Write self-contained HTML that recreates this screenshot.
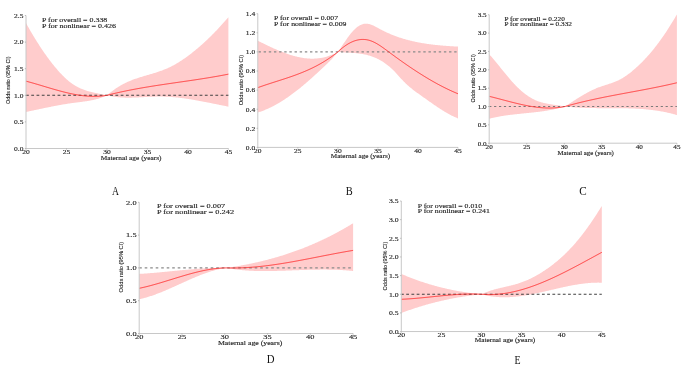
<!DOCTYPE html>
<html><head><meta charset="utf-8"><style>
html,body{margin:0;padding:0;background:#fff;width:685px;height:367px;overflow:hidden}
svg{display:block;will-change:transform}
.t{font-family:"Liberation Serif",serif;fill:#222;stroke:#222;stroke-width:0.12px}
.s{font-family:"Liberation Sans",sans-serif;fill:#222;stroke:#222;stroke-width:0.1px}
.L{font-family:"Liberation Serif",serif;font-size:12px;fill:#111}
</style></head><body>
<svg width="685" height="367" viewBox="0 0 685 367">
<path d="M26,23.04 L26.67,24.26 L27.35,25.47 L28.02,26.67 L28.7,27.86 L29.37,29.04 L30.05,30.21 L30.72,31.38 L31.4,32.53 L32.07,33.68 L32.75,34.81 L33.42,35.94 L34.1,37.06 L34.77,38.16 L35.45,39.26 L36.12,40.35 L36.79,41.43 L37.47,42.5 L38.14,43.56 L38.82,44.62 L39.49,45.66 L40.17,46.69 L40.84,47.71 L41.52,48.73 L42.19,49.73 L42.87,50.73 L43.54,51.71 L44.22,52.69 L44.89,53.66 L45.57,54.61 L46.24,55.56 L46.91,56.5 L47.59,57.42 L48.26,58.34 L48.94,59.25 L49.61,60.15 L50.29,61.03 L50.96,61.91 L51.64,62.78 L52.31,63.64 L52.99,64.49 L53.66,65.33 L54.34,66.15 L55.01,66.97 L55.69,67.78 L56.36,68.58 L57.03,69.37 L57.71,70.14 L58.38,70.91 L59.06,71.67 L59.73,72.41 L60.41,73.14 L61.08,73.86 L61.76,74.57 L62.43,75.26 L63.11,75.94 L63.78,76.61 L64.46,77.27 L65.13,77.91 L65.81,78.53 L66.48,79.15 L67.15,79.74 L67.83,80.33 L68.5,80.9 L69.18,81.45 L69.85,81.99 L70.53,82.51 L71.2,83.01 L71.88,83.5 L72.55,83.97 L73.23,84.43 L73.9,84.87 L74.58,85.29 L75.25,85.7 L75.93,86.1 L76.6,86.48 L77.27,86.84 L77.95,87.2 L78.62,87.54 L79.3,87.86 L79.97,88.18 L80.65,88.48 L81.32,88.77 L82,89.05 L82.67,89.32 L83.35,89.58 L84.02,89.83 L84.7,90.07 L85.37,90.3 L86.05,90.53 L86.72,90.74 L87.39,90.95 L88.07,91.15 L88.74,91.34 L89.42,91.52 L90.09,91.7 L90.77,91.87 L91.44,92.04 L92.12,92.2 L92.79,92.36 L93.47,92.51 L94.14,92.66 L94.82,92.81 L95.49,92.95 L96.17,93.09 L96.84,93.23 L97.51,93.37 L98.19,93.5 L98.86,93.63 L99.54,93.77 L100.21,93.9 L100.89,94.03 L101.56,94.17 L102.24,94.3 L102.91,94.44 L103.59,94.57 L104.26,94.71 L104.94,94.85 L105.61,95 L106.29,95.15 L106.96,95.3 L107.63,94.71 L108.31,94.14 L108.98,93.58 L109.66,93.03 L110.33,92.48 L111.01,91.95 L111.68,91.44 L112.36,90.93 L113.03,90.43 L113.71,89.94 L114.38,89.46 L115.06,89 L115.73,88.54 L116.41,88.09 L117.08,87.65 L117.75,87.22 L118.43,86.8 L119.1,86.39 L119.78,85.99 L120.45,85.6 L121.13,85.21 L121.8,84.84 L122.48,84.47 L123.15,84.11 L123.83,83.76 L124.5,83.42 L125.18,83.08 L125.85,82.75 L126.53,82.43 L127.2,82.12 L127.87,81.81 L128.55,81.51 L129.22,81.22 L129.9,80.94 L130.57,80.66 L131.25,80.39 L131.92,80.12 L132.6,79.86 L133.27,79.6 L133.95,79.35 L134.62,79.11 L135.3,78.87 L135.97,78.63 L136.65,78.4 L137.32,78.17 L137.99,77.95 L138.67,77.73 L139.34,77.51 L140.02,77.3 L140.69,77.09 L141.37,76.88 L142.04,76.67 L142.72,76.47 L143.39,76.27 L144.07,76.07 L144.74,75.87 L145.42,75.67 L146.09,75.48 L146.77,75.28 L147.44,75.09 L148.11,74.89 L148.79,74.69 L149.46,74.5 L150.14,74.3 L150.81,74.11 L151.49,73.91 L152.16,73.71 L152.84,73.51 L153.51,73.3 L154.19,73.1 L154.86,72.89 L155.54,72.68 L156.21,72.47 L156.89,72.25 L157.56,72.03 L158.23,71.81 L158.91,71.58 L159.58,71.35 L160.26,71.11 L160.93,70.87 L161.61,70.63 L162.28,70.38 L162.96,70.12 L163.63,69.86 L164.31,69.6 L164.98,69.32 L165.66,69.04 L166.33,68.76 L167.01,68.47 L167.68,68.17 L168.35,67.86 L169.03,67.55 L169.7,67.22 L170.38,66.89 L171.05,66.56 L171.73,66.21 L172.4,65.86 L173.08,65.5 L173.75,65.14 L174.43,64.77 L175.1,64.39 L175.78,64 L176.45,63.61 L177.13,63.21 L177.8,62.8 L178.47,62.39 L179.15,61.97 L179.82,61.54 L180.5,61.11 L181.17,60.67 L181.85,60.23 L182.52,59.78 L183.2,59.32 L183.87,58.86 L184.55,58.39 L185.22,57.92 L185.9,57.44 L186.57,56.95 L187.25,56.46 L187.92,55.97 L188.59,55.47 L189.27,54.96 L189.94,54.45 L190.62,53.93 L191.29,53.41 L191.97,52.89 L192.64,52.35 L193.32,51.82 L193.99,51.28 L194.67,50.73 L195.34,50.18 L196.02,49.62 L196.69,49.06 L197.37,48.49 L198.04,47.92 L198.71,47.35 L199.39,46.76 L200.06,46.18 L200.74,45.59 L201.41,44.99 L202.09,44.39 L202.76,43.78 L203.44,43.17 L204.11,42.56 L204.79,41.93 L205.46,41.31 L206.14,40.68 L206.81,40.04 L207.49,39.4 L208.16,38.76 L208.83,38.11 L209.51,37.45 L210.18,36.79 L210.86,36.13 L211.53,35.46 L212.21,34.79 L212.88,34.11 L213.56,33.42 L214.23,32.73 L214.91,32.04 L215.58,31.34 L216.26,30.64 L216.93,29.93 L217.61,29.22 L218.28,28.5 L218.95,27.78 L219.63,27.06 L220.3,26.32 L220.98,25.59 L221.65,24.85 L222.33,24.1 L223,23.35 L223.68,22.6 L224.35,21.84 L225.03,21.08 L225.7,20.31 L226.38,19.54 L227.05,18.76 L227.73,17.98 L228.4,17.19 L228.4,106.64 L227.73,106.51 L227.05,106.38 L226.38,106.24 L225.7,106.11 L225.03,105.98 L224.35,105.84 L223.68,105.7 L223,105.57 L222.33,105.43 L221.65,105.3 L220.98,105.16 L220.3,105.02 L219.63,104.89 L218.95,104.75 L218.28,104.61 L217.61,104.47 L216.93,104.34 L216.26,104.2 L215.58,104.06 L214.91,103.92 L214.23,103.79 L213.56,103.65 L212.88,103.51 L212.21,103.38 L211.53,103.24 L210.86,103.1 L210.18,102.97 L209.51,102.83 L208.83,102.7 L208.16,102.56 L207.49,102.43 L206.81,102.3 L206.14,102.17 L205.46,102.03 L204.79,101.9 L204.11,101.77 L203.44,101.64 L202.76,101.51 L202.09,101.38 L201.41,101.26 L200.74,101.13 L200.06,101 L199.39,100.88 L198.71,100.76 L198.04,100.63 L197.37,100.51 L196.69,100.39 L196.02,100.27 L195.34,100.15 L194.67,100.04 L193.99,99.92 L193.32,99.81 L192.64,99.69 L191.97,99.58 L191.29,99.47 L190.62,99.36 L189.94,99.26 L189.27,99.15 L188.59,99.05 L187.92,98.94 L187.25,98.84 L186.57,98.74 L185.9,98.64 L185.22,98.55 L184.55,98.45 L183.87,98.36 L183.2,98.27 L182.52,98.18 L181.85,98.1 L181.17,98.01 L180.5,97.93 L179.82,97.85 L179.15,97.77 L178.47,97.69 L177.8,97.62 L177.13,97.55 L176.45,97.48 L175.78,97.41 L175.1,97.34 L174.43,97.28 L173.75,97.22 L173.08,97.16 L172.4,97.11 L171.73,97.05 L171.05,97 L170.38,96.95 L169.7,96.91 L169.03,96.87 L168.35,96.83 L167.68,96.79 L167.01,96.75 L166.33,96.72 L165.66,96.69 L164.98,96.67 L164.31,96.64 L163.63,96.62 L162.96,96.6 L162.28,96.59 L161.61,96.58 L160.93,96.57 L160.26,96.56 L159.58,96.56 L158.91,96.56 L158.23,96.57 L157.56,96.57 L156.89,96.58 L156.21,96.6 L155.54,96.61 L154.86,96.63 L154.19,96.65 L153.51,96.67 L152.84,96.69 L152.16,96.72 L151.49,96.75 L150.81,96.77 L150.14,96.8 L149.46,96.84 L148.79,96.87 L148.11,96.9 L147.44,96.94 L146.77,96.97 L146.09,97.01 L145.42,97.04 L144.74,97.08 L144.07,97.12 L143.39,97.15 L142.72,97.19 L142.04,97.22 L141.37,97.26 L140.69,97.29 L140.02,97.33 L139.34,97.36 L138.67,97.4 L137.99,97.43 L137.32,97.46 L136.65,97.49 L135.97,97.51 L135.3,97.54 L134.62,97.56 L133.95,97.59 L133.27,97.61 L132.6,97.62 L131.92,97.64 L131.25,97.65 L130.57,97.66 L129.9,97.67 L129.22,97.67 L128.55,97.68 L127.87,97.67 L127.2,97.67 L126.53,97.66 L125.85,97.65 L125.18,97.63 L124.5,97.61 L123.83,97.59 L123.15,97.56 L122.48,97.53 L121.8,97.5 L121.13,97.45 L120.45,97.41 L119.78,97.36 L119.1,97.3 L118.43,97.24 L117.75,97.18 L117.08,97.11 L116.41,97.03 L115.73,96.95 L115.06,96.86 L114.38,96.77 L113.71,96.67 L113.03,96.56 L112.36,96.45 L111.68,96.33 L111.01,96.2 L110.33,96.07 L109.66,95.93 L108.98,95.78 L108.31,95.63 L107.63,95.47 L106.96,95.3 L106.29,95.63 L105.61,95.94 L104.94,96.24 L104.26,96.53 L103.59,96.81 L102.91,97.08 L102.24,97.34 L101.56,97.59 L100.89,97.83 L100.21,98.06 L99.54,98.29 L98.86,98.5 L98.19,98.7 L97.51,98.9 L96.84,99.09 L96.17,99.27 L95.49,99.44 L94.82,99.61 L94.14,99.77 L93.47,99.92 L92.79,100.06 L92.12,100.2 L91.44,100.34 L90.77,100.47 L90.09,100.59 L89.42,100.71 L88.74,100.83 L88.07,100.94 L87.39,101.05 L86.72,101.15 L86.05,101.25 L85.37,101.35 L84.7,101.44 L84.02,101.53 L83.35,101.62 L82.67,101.71 L82,101.8 L81.32,101.88 L80.65,101.97 L79.97,102.05 L79.3,102.13 L78.62,102.21 L77.95,102.3 L77.27,102.38 L76.6,102.46 L75.93,102.55 L75.25,102.64 L74.58,102.72 L73.9,102.81 L73.23,102.9 L72.55,103 L71.88,103.09 L71.2,103.19 L70.53,103.29 L69.85,103.39 L69.18,103.49 L68.5,103.59 L67.83,103.7 L67.15,103.81 L66.48,103.91 L65.81,104.02 L65.13,104.14 L64.46,104.25 L63.78,104.36 L63.11,104.48 L62.43,104.59 L61.76,104.71 L61.08,104.83 L60.41,104.95 L59.73,105.07 L59.06,105.2 L58.38,105.32 L57.71,105.45 L57.03,105.57 L56.36,105.7 L55.69,105.83 L55.01,105.96 L54.34,106.09 L53.66,106.22 L52.99,106.35 L52.31,106.48 L51.64,106.61 L50.96,106.75 L50.29,106.88 L49.61,107.02 L48.94,107.15 L48.26,107.29 L47.59,107.43 L46.91,107.57 L46.24,107.7 L45.57,107.84 L44.89,107.98 L44.22,108.12 L43.54,108.26 L42.87,108.4 L42.19,108.54 L41.52,108.68 L40.84,108.83 L40.17,108.97 L39.49,109.11 L38.82,109.25 L38.14,109.39 L37.47,109.54 L36.79,109.68 L36.12,109.82 L35.45,109.96 L34.77,110.1 L34.1,110.25 L33.42,110.39 L32.75,110.53 L32.07,110.67 L31.4,110.81 L30.72,110.95 L30.05,111.1 L29.37,111.24 L28.7,111.38 L28.02,111.52 L27.35,111.66 L26.67,111.8 L26,111.93 Z" fill="#ffcccc"/>
<line x1="26" y1="95.3" x2="228.4" y2="95.3" stroke="#404040" stroke-width="1.1" stroke-dasharray="2.8 2.46" stroke-dashoffset="0"/>
<path d="M26,81.17 L26.67,81.35 L27.35,81.53 L28.02,81.71 L28.7,81.89 L29.37,82.08 L30.05,82.26 L30.72,82.45 L31.4,82.64 L32.07,82.83 L32.75,83.02 L33.42,83.21 L34.1,83.41 L34.77,83.6 L35.45,83.8 L36.12,84 L36.79,84.2 L37.47,84.39 L38.14,84.59 L38.82,84.79 L39.49,84.99 L40.17,85.2 L40.84,85.4 L41.52,85.6 L42.19,85.8 L42.87,86 L43.54,86.21 L44.22,86.41 L44.89,86.61 L45.57,86.81 L46.24,87.02 L46.91,87.22 L47.59,87.42 L48.26,87.62 L48.94,87.82 L49.61,88.02 L50.29,88.22 L50.96,88.42 L51.64,88.62 L52.31,88.82 L52.99,89.01 L53.66,89.21 L54.34,89.4 L55.01,89.59 L55.69,89.79 L56.36,89.98 L57.03,90.17 L57.71,90.35 L58.38,90.54 L59.06,90.73 L59.73,90.91 L60.41,91.09 L61.08,91.27 L61.76,91.45 L62.43,91.62 L63.11,91.8 L63.78,91.97 L64.46,92.14 L65.13,92.31 L65.81,92.47 L66.48,92.64 L67.15,92.8 L67.83,92.95 L68.5,93.11 L69.18,93.26 L69.85,93.41 L70.53,93.56 L71.2,93.7 L71.88,93.84 L72.55,93.98 L73.23,94.12 L73.9,94.25 L74.58,94.38 L75.25,94.5 L75.93,94.63 L76.6,94.74 L77.27,94.86 L77.95,94.97 L78.62,95.08 L79.3,95.18 L79.97,95.28 L80.65,95.38 L81.32,95.47 L82,95.56 L82.67,95.64 L83.35,95.72 L84.02,95.8 L84.7,95.87 L85.37,95.94 L86.05,96 L86.72,96.06 L87.39,96.11 L88.07,96.16 L88.74,96.2 L89.42,96.24 L90.09,96.27 L90.77,96.3 L91.44,96.33 L92.12,96.34 L92.79,96.36 L93.47,96.36 L94.14,96.37 L94.82,96.36 L95.49,96.36 L96.17,96.34 L96.84,96.32 L97.51,96.3 L98.19,96.27 L98.86,96.23 L99.54,96.19 L100.21,96.14 L100.89,96.08 L101.56,96.02 L102.24,95.95 L102.91,95.88 L103.59,95.8 L104.26,95.71 L104.94,95.62 L105.61,95.52 L106.29,95.41 L106.96,95.3 L107.63,95.13 L108.31,94.95 L108.98,94.78 L109.66,94.61 L110.33,94.45 L111.01,94.28 L111.68,94.12 L112.36,93.95 L113.03,93.79 L113.71,93.63 L114.38,93.47 L115.06,93.31 L115.73,93.15 L116.41,93 L117.08,92.84 L117.75,92.69 L118.43,92.54 L119.1,92.39 L119.78,92.24 L120.45,92.09 L121.13,91.94 L121.8,91.8 L122.48,91.65 L123.15,91.51 L123.83,91.36 L124.5,91.22 L125.18,91.08 L125.85,90.94 L126.53,90.8 L127.2,90.67 L127.87,90.53 L128.55,90.4 L129.22,90.26 L129.9,90.13 L130.57,90 L131.25,89.86 L131.92,89.73 L132.6,89.61 L133.27,89.48 L133.95,89.35 L134.62,89.22 L135.3,89.1 L135.97,88.97 L136.65,88.85 L137.32,88.72 L137.99,88.6 L138.67,88.48 L139.34,88.36 L140.02,88.24 L140.69,88.12 L141.37,88 L142.04,87.89 L142.72,87.77 L143.39,87.65 L144.07,87.54 L144.74,87.42 L145.42,87.31 L146.09,87.19 L146.77,87.08 L147.44,86.97 L148.11,86.86 L148.79,86.75 L149.46,86.64 L150.14,86.53 L150.81,86.42 L151.49,86.31 L152.16,86.2 L152.84,86.09 L153.51,85.99 L154.19,85.88 L154.86,85.78 L155.54,85.67 L156.21,85.56 L156.89,85.46 L157.56,85.36 L158.23,85.25 L158.91,85.15 L159.58,85.05 L160.26,84.94 L160.93,84.84 L161.61,84.74 L162.28,84.64 L162.96,84.54 L163.63,84.44 L164.31,84.34 L164.98,84.24 L165.66,84.14 L166.33,84.04 L167.01,83.94 L167.68,83.84 L168.35,83.74 L169.03,83.64 L169.7,83.54 L170.38,83.44 L171.05,83.35 L171.73,83.25 L172.4,83.15 L173.08,83.05 L173.75,82.95 L174.43,82.86 L175.1,82.76 L175.78,82.66 L176.45,82.56 L177.13,82.47 L177.8,82.37 L178.47,82.27 L179.15,82.17 L179.82,82.08 L180.5,81.98 L181.17,81.88 L181.85,81.79 L182.52,81.69 L183.2,81.59 L183.87,81.49 L184.55,81.39 L185.22,81.3 L185.9,81.2 L186.57,81.1 L187.25,81 L187.92,80.9 L188.59,80.8 L189.27,80.71 L189.94,80.61 L190.62,80.51 L191.29,80.41 L191.97,80.31 L192.64,80.21 L193.32,80.11 L193.99,80.01 L194.67,79.91 L195.34,79.8 L196.02,79.7 L196.69,79.6 L197.37,79.5 L198.04,79.4 L198.71,79.29 L199.39,79.19 L200.06,79.08 L200.74,78.98 L201.41,78.88 L202.09,78.77 L202.76,78.66 L203.44,78.56 L204.11,78.45 L204.79,78.34 L205.46,78.24 L206.14,78.13 L206.81,78.02 L207.49,77.91 L208.16,77.8 L208.83,77.69 L209.51,77.58 L210.18,77.46 L210.86,77.35 L211.53,77.24 L212.21,77.12 L212.88,77.01 L213.56,76.89 L214.23,76.78 L214.91,76.66 L215.58,76.54 L216.26,76.43 L216.93,76.31 L217.61,76.19 L218.28,76.07 L218.95,75.95 L219.63,75.82 L220.3,75.7 L220.98,75.58 L221.65,75.45 L222.33,75.33 L223,75.2 L223.68,75.07 L224.35,74.94 L225.03,74.81 L225.7,74.68 L226.38,74.55 L227.05,74.42 L227.73,74.29 L228.4,74.15" fill="none" stroke="#ff2a2a" stroke-width="0.9"/>
<path d="M26,15.5 V148.5 H228.4" fill="none" stroke="#c8c8c8" stroke-width="1"/>
<line x1="24.8" y1="148.5" x2="26" y2="148.5" stroke="#999" stroke-width="0.6"/>
<text x="14.02" y="150.8" class="t" font-size="5.9" textLength="9.38" lengthAdjust="spacingAndGlyphs">0.0</text>
<line x1="24.8" y1="121.9" x2="26" y2="121.9" stroke="#999" stroke-width="0.6"/>
<text x="14.02" y="124.2" class="t" font-size="5.9" textLength="9.38" lengthAdjust="spacingAndGlyphs">0.5</text>
<line x1="24.8" y1="95.3" x2="26" y2="95.3" stroke="#999" stroke-width="0.6"/>
<text x="14.02" y="97.6" class="t" font-size="5.9" textLength="9.38" lengthAdjust="spacingAndGlyphs">1.0</text>
<line x1="24.8" y1="68.7" x2="26" y2="68.7" stroke="#999" stroke-width="0.6"/>
<text x="14.02" y="71" class="t" font-size="5.9" textLength="9.38" lengthAdjust="spacingAndGlyphs">1.5</text>
<line x1="24.8" y1="42.1" x2="26" y2="42.1" stroke="#999" stroke-width="0.6"/>
<text x="14.02" y="44.4" class="t" font-size="5.9" textLength="9.38" lengthAdjust="spacingAndGlyphs">2.0</text>
<line x1="24.8" y1="15.5" x2="26" y2="15.5" stroke="#999" stroke-width="0.6"/>
<text x="14.02" y="17.8" class="t" font-size="5.9" textLength="9.38" lengthAdjust="spacingAndGlyphs">2.5</text>
<line x1="26" y1="148.5" x2="26" y2="149.7" stroke="#999" stroke-width="0.6"/>
<text x="22.25" y="154.2" class="t" font-size="5.9" textLength="7.51" lengthAdjust="spacingAndGlyphs">20</text>
<line x1="66.48" y1="148.5" x2="66.48" y2="149.7" stroke="#999" stroke-width="0.6"/>
<text x="62.73" y="154.2" class="t" font-size="5.9" textLength="7.51" lengthAdjust="spacingAndGlyphs">25</text>
<line x1="106.96" y1="148.5" x2="106.96" y2="149.7" stroke="#999" stroke-width="0.6"/>
<text x="103.21" y="154.2" class="t" font-size="5.9" textLength="7.51" lengthAdjust="spacingAndGlyphs">30</text>
<line x1="147.44" y1="148.5" x2="147.44" y2="149.7" stroke="#999" stroke-width="0.6"/>
<text x="143.69" y="154.2" class="t" font-size="5.9" textLength="7.51" lengthAdjust="spacingAndGlyphs">35</text>
<line x1="187.92" y1="148.5" x2="187.92" y2="149.7" stroke="#999" stroke-width="0.6"/>
<text x="184.17" y="154.2" class="t" font-size="5.9" textLength="7.51" lengthAdjust="spacingAndGlyphs">40</text>
<line x1="228.4" y1="148.5" x2="228.4" y2="149.7" stroke="#999" stroke-width="0.6"/>
<text x="224.65" y="154.2" class="t" font-size="5.9" textLength="7.51" lengthAdjust="spacingAndGlyphs">45</text>
<text x="100.8" y="159.9" class="t" font-size="5.9" textLength="60.7" lengthAdjust="spacingAndGlyphs">Maternal age (years)</text>
<text transform="translate(10.41,103.95) rotate(-90)" class="s" font-size="6.2" textLength="47.5" lengthAdjust="spacingAndGlyphs">Odds ratio (95% CI)</text>
<text x="42.0" y="21.9" class="t" font-size="5.9" textLength="65.3" lengthAdjust="spacingAndGlyphs">P for overall = 0.338</text>
<text x="42.0" y="27.5" class="t" font-size="5.9" textLength="74.0" lengthAdjust="spacingAndGlyphs">P for nonlinear = 0.426</text>
<path d="M257.8,40.73 L258.47,41.06 L259.13,41.39 L259.8,41.72 L260.47,42.05 L261.14,42.38 L261.8,42.71 L262.47,43.04 L263.14,43.37 L263.81,43.7 L264.47,44.02 L265.14,44.35 L265.81,44.67 L266.48,45 L267.14,45.32 L267.81,45.64 L268.48,45.95 L269.14,46.27 L269.81,46.59 L270.48,46.9 L271.15,47.21 L271.81,47.52 L272.48,47.83 L273.15,48.13 L273.82,48.43 L274.48,48.73 L275.15,49.03 L275.82,49.32 L276.49,49.62 L277.15,49.91 L277.82,50.19 L278.49,50.47 L279.15,50.75 L279.82,51.03 L280.49,51.3 L281.16,51.57 L281.82,51.84 L282.49,52.1 L283.16,52.36 L283.83,52.62 L284.49,52.87 L285.16,53.12 L285.83,53.36 L286.5,53.6 L287.16,53.84 L287.83,54.07 L288.5,54.29 L289.16,54.51 L289.83,54.73 L290.5,54.94 L291.17,55.15 L291.83,55.35 L292.5,55.55 L293.17,55.74 L293.84,55.93 L294.5,56.11 L295.17,56.29 L295.84,56.46 L296.51,56.62 L297.17,56.78 L297.84,56.94 L298.51,57.09 L299.17,57.23 L299.84,57.36 L300.51,57.49 L301.18,57.62 L301.84,57.73 L302.51,57.84 L303.18,57.95 L303.85,58.04 L304.51,58.13 L305.18,58.22 L305.85,58.29 L306.52,58.36 L307.18,58.43 L307.85,58.48 L308.52,58.53 L309.18,58.57 L309.85,58.6 L310.52,58.63 L311.19,58.64 L311.85,58.65 L312.52,58.65 L313.19,58.65 L313.86,58.63 L314.52,58.61 L315.19,58.58 L315.86,58.54 L316.53,58.49 L317.19,58.44 L317.86,58.37 L318.53,58.3 L319.19,58.21 L319.86,58.12 L320.53,58.02 L321.2,57.91 L321.86,57.79 L322.53,57.66 L323.2,57.53 L323.87,57.38 L324.53,57.22 L325.2,57.05 L325.87,56.88 L326.54,56.69 L327.2,56.49 L327.87,56.28 L328.54,56.07 L329.2,55.84 L329.87,55.6 L330.54,55.35 L331.21,55.09 L331.87,54.82 L332.54,54.54 L333.21,54.25 L333.88,53.95 L334.54,53.64 L335.21,53.31 L335.88,52.98 L336.55,52.63 L337.21,52.27 L337.88,51.9 L338.55,50.95 L339.21,49.99 L339.88,49.02 L340.55,48.04 L341.22,47.06 L341.88,46.07 L342.55,45.08 L343.22,44.09 L343.89,43.11 L344.55,42.13 L345.22,41.15 L345.89,40.19 L346.56,39.23 L347.22,38.29 L347.89,37.37 L348.56,36.46 L349.22,35.57 L349.89,34.7 L350.56,33.85 L351.23,33.03 L351.89,32.24 L352.56,31.48 L353.23,30.75 L353.9,30.05 L354.56,29.39 L355.23,28.76 L355.9,28.16 L356.57,27.6 L357.23,27.07 L357.9,26.58 L358.57,26.13 L359.23,25.71 L359.9,25.33 L360.57,24.99 L361.24,24.68 L361.9,24.41 L362.57,24.18 L363.24,23.99 L363.91,23.84 L364.57,23.73 L365.24,23.66 L365.91,23.63 L366.58,23.64 L367.24,23.69 L367.91,23.78 L368.58,23.9 L369.24,24.06 L369.91,24.25 L370.58,24.46 L371.25,24.7 L371.91,24.96 L372.58,25.25 L373.25,25.55 L373.92,25.87 L374.58,26.2 L375.25,26.54 L375.92,26.9 L376.59,27.26 L377.25,27.62 L377.92,27.99 L378.59,28.35 L379.25,28.72 L379.92,29.07 L380.59,29.43 L381.26,29.78 L381.92,30.12 L382.59,30.46 L383.26,30.79 L383.93,31.12 L384.59,31.44 L385.26,31.76 L385.93,32.07 L386.6,32.38 L387.26,32.69 L387.93,32.99 L388.6,33.28 L389.26,33.57 L389.93,33.86 L390.6,34.14 L391.27,34.42 L391.93,34.69 L392.6,34.96 L393.27,35.22 L393.94,35.48 L394.6,35.73 L395.27,35.99 L395.94,36.23 L396.61,36.48 L397.27,36.71 L397.94,36.95 L398.61,37.18 L399.27,37.41 L399.94,37.63 L400.61,37.85 L401.28,38.06 L401.94,38.27 L402.61,38.48 L403.28,38.68 L403.95,38.88 L404.61,39.08 L405.28,39.27 L405.95,39.46 L406.62,39.65 L407.28,39.83 L407.95,40.01 L408.62,40.18 L409.28,40.35 L409.95,40.52 L410.62,40.69 L411.29,40.85 L411.95,41.01 L412.62,41.16 L413.29,41.32 L413.96,41.47 L414.62,41.61 L415.29,41.76 L415.96,41.9 L416.63,42.04 L417.29,42.17 L417.96,42.3 L418.63,42.43 L419.29,42.56 L419.96,42.68 L420.63,42.8 L421.3,42.92 L421.96,43.04 L422.63,43.15 L423.3,43.26 L423.97,43.37 L424.63,43.48 L425.3,43.58 L425.97,43.68 L426.64,43.78 L427.3,43.88 L427.97,43.97 L428.64,44.06 L429.3,44.15 L429.97,44.24 L430.64,44.33 L431.31,44.41 L431.97,44.5 L432.64,44.58 L433.31,44.65 L433.98,44.73 L434.64,44.81 L435.31,44.88 L435.98,44.95 L436.65,45.02 L437.31,45.09 L437.98,45.16 L438.65,45.22 L439.31,45.28 L439.98,45.35 L440.65,45.41 L441.32,45.47 L441.98,45.52 L442.65,45.58 L443.32,45.64 L443.99,45.69 L444.65,45.74 L445.32,45.79 L445.99,45.85 L446.66,45.9 L447.32,45.94 L447.99,45.99 L448.66,46.04 L449.32,46.08 L449.99,46.13 L450.66,46.17 L451.33,46.22 L451.99,46.26 L452.66,46.3 L453.33,46.34 L454,46.38 L454.66,46.42 L455.33,46.46 L456,46.5 L456.67,46.54 L457.33,46.58 L458,46.62 L458,118.4 L457.33,118.13 L456.67,117.86 L456,117.58 L455.33,117.29 L454.66,116.99 L454,116.69 L453.33,116.37 L452.66,116.05 L451.99,115.72 L451.33,115.38 L450.66,115.04 L449.99,114.69 L449.32,114.33 L448.66,113.97 L447.99,113.6 L447.32,113.22 L446.66,112.84 L445.99,112.45 L445.32,112.06 L444.65,111.66 L443.99,111.26 L443.32,110.85 L442.65,110.43 L441.98,110.02 L441.32,109.59 L440.65,109.17 L439.98,108.73 L439.31,108.3 L438.65,107.86 L437.98,107.42 L437.31,106.97 L436.65,106.52 L435.98,106.07 L435.31,105.61 L434.64,105.15 L433.98,104.69 L433.31,104.23 L432.64,103.77 L431.97,103.3 L431.31,102.83 L430.64,102.36 L429.97,101.89 L429.3,101.42 L428.64,100.95 L427.97,100.47 L427.3,100 L426.64,99.52 L425.97,99.05 L425.3,98.58 L424.63,98.1 L423.97,97.63 L423.3,97.15 L422.63,96.68 L421.96,96.21 L421.3,95.74 L420.63,95.27 L419.96,94.79 L419.29,94.32 L418.63,93.85 L417.96,93.37 L417.29,92.89 L416.63,92.41 L415.96,91.92 L415.29,91.43 L414.62,90.93 L413.96,90.43 L413.29,89.92 L412.62,89.4 L411.95,88.87 L411.29,88.33 L410.62,87.79 L409.95,87.23 L409.28,86.66 L408.62,86.08 L407.95,85.49 L407.28,84.88 L406.62,84.26 L405.95,83.63 L405.28,82.99 L404.61,82.34 L403.95,81.68 L403.28,81 L402.61,80.31 L401.94,79.61 L401.28,78.9 L400.61,78.17 L399.94,77.44 L399.27,76.69 L398.61,75.93 L397.94,75.17 L397.27,74.42 L396.61,73.67 L395.94,72.94 L395.27,72.22 L394.6,71.52 L393.94,70.84 L393.27,70.17 L392.6,69.52 L391.93,68.89 L391.27,68.27 L390.6,67.67 L389.93,67.08 L389.26,66.51 L388.6,65.95 L387.93,65.41 L387.26,64.89 L386.6,64.38 L385.93,63.88 L385.26,63.4 L384.59,62.93 L383.93,62.47 L383.26,62.03 L382.59,61.61 L381.92,61.19 L381.26,60.79 L380.59,60.4 L379.92,60.03 L379.25,59.66 L378.59,59.31 L377.92,58.98 L377.25,58.65 L376.59,58.33 L375.92,58.03 L375.25,57.74 L374.58,57.46 L373.92,57.19 L373.25,56.93 L372.58,56.68 L371.91,56.44 L371.25,56.21 L370.58,55.99 L369.91,55.78 L369.24,55.58 L368.58,55.39 L367.91,55.21 L367.24,55.04 L366.58,54.87 L365.91,54.71 L365.24,54.57 L364.57,54.43 L363.91,54.29 L363.24,54.17 L362.57,54.05 L361.9,53.93 L361.24,53.83 L360.57,53.73 L359.9,53.63 L359.23,53.54 L358.57,53.46 L357.9,53.38 L357.23,53.3 L356.57,53.23 L355.9,53.16 L355.23,53.1 L354.56,53.04 L353.9,52.98 L353.23,52.93 L352.56,52.88 L351.89,52.83 L351.23,52.79 L350.56,52.74 L349.89,52.7 L349.22,52.66 L348.56,52.62 L347.89,52.58 L347.22,52.54 L346.56,52.5 L345.89,52.46 L345.22,52.42 L344.55,52.39 L343.89,52.34 L343.22,52.3 L342.55,52.26 L341.88,52.22 L341.22,52.17 L340.55,52.12 L339.88,52.07 L339.21,52.02 L338.55,51.96 L337.88,51.9 L337.21,52.77 L336.55,53.61 L335.88,54.43 L335.21,55.23 L334.54,56.01 L333.88,56.77 L333.21,57.52 L332.54,58.25 L331.87,58.97 L331.21,59.67 L330.54,60.36 L329.87,61.04 L329.2,61.71 L328.54,62.37 L327.87,63.02 L327.2,63.67 L326.54,64.31 L325.87,64.95 L325.2,65.58 L324.53,66.2 L323.87,66.83 L323.2,67.45 L322.53,68.07 L321.86,68.69 L321.2,69.31 L320.53,69.92 L319.86,70.54 L319.19,71.16 L318.53,71.78 L317.86,72.4 L317.19,73.01 L316.53,73.63 L315.86,74.24 L315.19,74.86 L314.52,75.47 L313.86,76.08 L313.19,76.68 L312.52,77.29 L311.85,77.89 L311.19,78.49 L310.52,79.09 L309.85,79.68 L309.18,80.27 L308.52,80.86 L307.85,81.44 L307.18,82.02 L306.52,82.6 L305.85,83.17 L305.18,83.74 L304.51,84.31 L303.85,84.87 L303.18,85.43 L302.51,85.99 L301.84,86.54 L301.18,87.09 L300.51,87.63 L299.84,88.17 L299.17,88.71 L298.51,89.24 L297.84,89.77 L297.17,90.3 L296.51,90.82 L295.84,91.33 L295.17,91.85 L294.5,92.36 L293.84,92.86 L293.17,93.36 L292.5,93.86 L291.83,94.35 L291.17,94.83 L290.5,95.32 L289.83,95.8 L289.16,96.27 L288.5,96.74 L287.83,97.2 L287.16,97.66 L286.5,98.12 L285.83,98.57 L285.16,99.01 L284.49,99.45 L283.83,99.89 L283.16,100.32 L282.49,100.74 L281.82,101.16 L281.16,101.58 L280.49,101.99 L279.82,102.39 L279.15,102.79 L278.49,103.18 L277.82,103.57 L277.15,103.96 L276.49,104.33 L275.82,104.71 L275.15,105.07 L274.48,105.43 L273.82,105.79 L273.15,106.14 L272.48,106.48 L271.81,106.82 L271.15,107.15 L270.48,107.48 L269.81,107.8 L269.14,108.11 L268.48,108.42 L267.81,108.72 L267.14,109.02 L266.48,109.31 L265.81,109.59 L265.14,109.87 L264.47,110.14 L263.81,110.4 L263.14,110.66 L262.47,110.91 L261.8,111.16 L261.14,111.4 L260.47,111.63 L259.8,111.86 L259.13,112.07 L258.47,112.29 L257.8,112.49 Z" fill="#ffcccc"/>
<line x1="257.8" y1="51.9" x2="458" y2="51.9" stroke="#8a8a8a" stroke-width="1.1" stroke-dasharray="2.4 2.75" stroke-dashoffset="-0.7"/>
<path d="M257.8,87.65 L258.47,87.41 L259.13,87.17 L259.8,86.93 L260.47,86.7 L261.14,86.46 L261.8,86.23 L262.47,86 L263.14,85.77 L263.81,85.54 L264.47,85.32 L265.14,85.09 L265.81,84.87 L266.48,84.65 L267.14,84.43 L267.81,84.21 L268.48,83.99 L269.14,83.77 L269.81,83.56 L270.48,83.34 L271.15,83.12 L271.81,82.91 L272.48,82.69 L273.15,82.48 L273.82,82.26 L274.48,82.05 L275.15,81.84 L275.82,81.62 L276.49,81.41 L277.15,81.2 L277.82,80.98 L278.49,80.77 L279.15,80.56 L279.82,80.34 L280.49,80.13 L281.16,79.91 L281.82,79.7 L282.49,79.48 L283.16,79.26 L283.83,79.05 L284.49,78.83 L285.16,78.61 L285.83,78.39 L286.5,78.17 L287.16,77.94 L287.83,77.72 L288.5,77.49 L289.16,77.27 L289.83,77.04 L290.5,76.81 L291.17,76.58 L291.83,76.35 L292.5,76.11 L293.17,75.88 L293.84,75.64 L294.5,75.4 L295.17,75.15 L295.84,74.91 L296.51,74.66 L297.17,74.41 L297.84,74.16 L298.51,73.91 L299.17,73.65 L299.84,73.39 L300.51,73.13 L301.18,72.87 L301.84,72.6 L302.51,72.33 L303.18,72.06 L303.85,71.78 L304.51,71.5 L305.18,71.22 L305.85,70.93 L306.52,70.64 L307.18,70.35 L307.85,70.05 L308.52,69.76 L309.18,69.45 L309.85,69.15 L310.52,68.83 L311.19,68.52 L311.85,68.2 L312.52,67.88 L313.19,67.55 L313.86,67.22 L314.52,66.89 L315.19,66.55 L315.86,66.2 L316.53,65.86 L317.19,65.5 L317.86,65.15 L318.53,64.78 L319.19,64.42 L319.86,64.04 L320.53,63.67 L321.2,63.29 L321.86,62.9 L322.53,62.51 L323.2,62.11 L323.87,61.71 L324.53,61.3 L325.2,60.89 L325.87,60.47 L326.54,60.04 L327.2,59.61 L327.87,59.18 L328.54,58.74 L329.2,58.29 L329.87,57.84 L330.54,57.38 L331.21,56.91 L331.87,56.44 L332.54,55.96 L333.21,55.48 L333.88,54.99 L334.54,54.49 L335.21,53.98 L335.88,53.47 L336.55,52.96 L337.21,52.43 L337.88,51.9 L338.55,51.27 L339.21,50.66 L339.88,50.06 L340.55,49.47 L341.22,48.9 L341.88,48.35 L342.55,47.81 L343.22,47.29 L343.89,46.78 L344.55,46.29 L345.22,45.81 L345.89,45.35 L346.56,44.91 L347.22,44.48 L347.89,44.07 L348.56,43.67 L349.22,43.3 L349.89,42.94 L350.56,42.59 L351.23,42.27 L351.89,41.96 L352.56,41.66 L353.23,41.39 L353.9,41.13 L354.56,40.89 L355.23,40.67 L355.9,40.47 L356.57,40.28 L357.23,40.11 L357.9,39.96 L358.57,39.83 L359.23,39.72 L359.9,39.62 L360.57,39.55 L361.24,39.49 L361.9,39.45 L362.57,39.44 L363.24,39.44 L363.91,39.46 L364.57,39.5 L365.24,39.56 L365.91,39.64 L366.58,39.73 L367.24,39.85 L367.91,39.99 L368.58,40.15 L369.24,40.33 L369.91,40.53 L370.58,40.75 L371.25,40.99 L371.91,41.25 L372.58,41.53 L373.25,41.83 L373.92,42.14 L374.58,42.47 L375.25,42.81 L375.92,43.17 L376.59,43.54 L377.25,43.93 L377.92,44.33 L378.59,44.74 L379.25,45.16 L379.92,45.59 L380.59,46.03 L381.26,46.48 L381.92,46.94 L382.59,47.41 L383.26,47.88 L383.93,48.36 L384.59,48.84 L385.26,49.32 L385.93,49.81 L386.6,50.31 L387.26,50.8 L387.93,51.3 L388.6,51.8 L389.26,52.29 L389.93,52.79 L390.6,53.29 L391.27,53.78 L391.93,54.27 L392.6,54.76 L393.27,55.25 L393.94,55.74 L394.6,56.23 L395.27,56.72 L395.94,57.2 L396.61,57.69 L397.27,58.17 L397.94,58.65 L398.61,59.13 L399.27,59.61 L399.94,60.08 L400.61,60.56 L401.28,61.03 L401.94,61.5 L402.61,61.98 L403.28,62.44 L403.95,62.91 L404.61,63.38 L405.28,63.84 L405.95,64.31 L406.62,64.77 L407.28,65.23 L407.95,65.68 L408.62,66.14 L409.28,66.59 L409.95,67.05 L410.62,67.5 L411.29,67.95 L411.95,68.39 L412.62,68.84 L413.29,69.28 L413.96,69.72 L414.62,70.16 L415.29,70.6 L415.96,71.04 L416.63,71.47 L417.29,71.9 L417.96,72.33 L418.63,72.76 L419.29,73.19 L419.96,73.61 L420.63,74.03 L421.3,74.45 L421.96,74.87 L422.63,75.29 L423.3,75.7 L423.97,76.11 L424.63,76.52 L425.3,76.93 L425.97,77.33 L426.64,77.74 L427.3,78.14 L427.97,78.54 L428.64,78.93 L429.3,79.33 L429.97,79.72 L430.64,80.1 L431.31,80.49 L431.97,80.88 L432.64,81.26 L433.31,81.64 L433.98,82.01 L434.64,82.39 L435.31,82.76 L435.98,83.13 L436.65,83.49 L437.31,83.86 L437.98,84.22 L438.65,84.58 L439.31,84.94 L439.98,85.29 L440.65,85.64 L441.32,85.99 L441.98,86.34 L442.65,86.68 L443.32,87.02 L443.99,87.36 L444.65,87.69 L445.32,88.02 L445.99,88.35 L446.66,88.68 L447.32,89 L447.99,89.32 L448.66,89.64 L449.32,89.96 L449.99,90.27 L450.66,90.58 L451.33,90.88 L451.99,91.19 L452.66,91.49 L453.33,91.78 L454,92.08 L454.66,92.37 L455.33,92.66 L456,92.94 L456.67,93.22 L457.33,93.5 L458,93.78" fill="none" stroke="#ff2a2a" stroke-width="0.9"/>
<path d="M257.8,13.7 V147.4 H458" fill="none" stroke="#c8c8c8" stroke-width="1"/>
<line x1="256.6" y1="147.4" x2="257.8" y2="147.4" stroke="#999" stroke-width="0.6"/>
<text x="245.82" y="149.7" class="t" font-size="5.9" textLength="9.38" lengthAdjust="spacingAndGlyphs">0.0</text>
<line x1="256.6" y1="128.3" x2="257.8" y2="128.3" stroke="#999" stroke-width="0.6"/>
<text x="245.82" y="130.6" class="t" font-size="5.9" textLength="9.38" lengthAdjust="spacingAndGlyphs">0.2</text>
<line x1="256.6" y1="109.2" x2="257.8" y2="109.2" stroke="#999" stroke-width="0.6"/>
<text x="245.82" y="111.5" class="t" font-size="5.9" textLength="9.38" lengthAdjust="spacingAndGlyphs">0.4</text>
<line x1="256.6" y1="90.1" x2="257.8" y2="90.1" stroke="#999" stroke-width="0.6"/>
<text x="245.82" y="92.4" class="t" font-size="5.9" textLength="9.38" lengthAdjust="spacingAndGlyphs">0.6</text>
<line x1="256.6" y1="71" x2="257.8" y2="71" stroke="#999" stroke-width="0.6"/>
<text x="245.82" y="73.3" class="t" font-size="5.9" textLength="9.38" lengthAdjust="spacingAndGlyphs">0.8</text>
<line x1="256.6" y1="51.9" x2="257.8" y2="51.9" stroke="#999" stroke-width="0.6"/>
<text x="245.82" y="54.2" class="t" font-size="5.9" textLength="9.38" lengthAdjust="spacingAndGlyphs">1.0</text>
<line x1="256.6" y1="32.8" x2="257.8" y2="32.8" stroke="#999" stroke-width="0.6"/>
<text x="245.82" y="35.1" class="t" font-size="5.9" textLength="9.38" lengthAdjust="spacingAndGlyphs">1.2</text>
<line x1="256.6" y1="13.7" x2="257.8" y2="13.7" stroke="#999" stroke-width="0.6"/>
<text x="245.82" y="16" class="t" font-size="5.9" textLength="9.38" lengthAdjust="spacingAndGlyphs">1.4</text>
<line x1="257.8" y1="147.4" x2="257.8" y2="148.6" stroke="#999" stroke-width="0.6"/>
<text x="254.05" y="153.1" class="t" font-size="5.9" textLength="7.51" lengthAdjust="spacingAndGlyphs">20</text>
<line x1="297.84" y1="147.4" x2="297.84" y2="148.6" stroke="#999" stroke-width="0.6"/>
<text x="294.09" y="153.1" class="t" font-size="5.9" textLength="7.51" lengthAdjust="spacingAndGlyphs">25</text>
<line x1="337.88" y1="147.4" x2="337.88" y2="148.6" stroke="#999" stroke-width="0.6"/>
<text x="334.13" y="153.1" class="t" font-size="5.9" textLength="7.51" lengthAdjust="spacingAndGlyphs">30</text>
<line x1="377.92" y1="147.4" x2="377.92" y2="148.6" stroke="#999" stroke-width="0.6"/>
<text x="374.17" y="153.1" class="t" font-size="5.9" textLength="7.51" lengthAdjust="spacingAndGlyphs">35</text>
<line x1="417.96" y1="147.4" x2="417.96" y2="148.6" stroke="#999" stroke-width="0.6"/>
<text x="414.21" y="153.1" class="t" font-size="5.9" textLength="7.51" lengthAdjust="spacingAndGlyphs">40</text>
<line x1="458" y1="147.4" x2="458" y2="148.6" stroke="#999" stroke-width="0.6"/>
<text x="454.25" y="153.1" class="t" font-size="5.9" textLength="7.51" lengthAdjust="spacingAndGlyphs">45</text>
<text x="330.8" y="158.2" class="t" font-size="5.9" textLength="59.3" lengthAdjust="spacingAndGlyphs">Maternal age (years)</text>
<text transform="translate(243.11,105.35) rotate(-90)" class="s" font-size="6.2" textLength="50.5" lengthAdjust="spacingAndGlyphs">Odds ratio (95% CI)</text>
<text x="274.1" y="20.1" class="t" font-size="5.9" textLength="64.0" lengthAdjust="spacingAndGlyphs">P for overall = 0.007</text>
<text x="274.1" y="25.8" class="t" font-size="5.9" textLength="72.4" lengthAdjust="spacingAndGlyphs">P for nonlinear = 0.009</text>
<path d="M489.2,54.24 L489.83,54.93 L490.45,55.63 L491.08,56.34 L491.7,57.05 L492.33,57.77 L492.95,58.5 L493.58,59.24 L494.21,59.98 L494.83,60.73 L495.46,61.49 L496.08,62.25 L496.71,63.01 L497.33,63.78 L497.96,64.55 L498.58,65.32 L499.21,66.09 L499.84,66.87 L500.46,67.65 L501.09,68.43 L501.71,69.2 L502.34,69.98 L502.96,70.76 L503.59,71.53 L504.22,72.3 L504.84,73.07 L505.47,73.84 L506.09,74.6 L506.72,75.36 L507.34,76.12 L507.97,76.86 L508.6,77.61 L509.22,78.34 L509.85,79.07 L510.47,79.79 L511.1,80.51 L511.72,81.21 L512.35,81.91 L512.98,82.6 L513.6,83.27 L514.23,83.94 L514.85,84.6 L515.48,85.25 L516.1,85.89 L516.73,86.52 L517.36,87.13 L517.98,87.74 L518.61,88.34 L519.23,88.93 L519.86,89.5 L520.48,90.07 L521.11,90.63 L521.73,91.17 L522.36,91.7 L522.99,92.23 L523.61,92.74 L524.24,93.24 L524.86,93.73 L525.49,94.2 L526.11,94.67 L526.74,95.12 L527.37,95.57 L527.99,96 L528.62,96.41 L529.24,96.82 L529.87,97.21 L530.49,97.59 L531.12,97.96 L531.75,98.32 L532.37,98.66 L533,98.99 L533.62,99.31 L534.25,99.62 L534.87,99.91 L535.5,100.19 L536.12,100.46 L536.75,100.72 L537.38,100.96 L538,101.2 L538.63,101.43 L539.25,101.64 L539.88,101.85 L540.5,102.05 L541.13,102.24 L541.76,102.42 L542.38,102.59 L543.01,102.75 L543.63,102.91 L544.26,103.06 L544.88,103.2 L545.51,103.34 L546.14,103.47 L546.76,103.6 L547.39,103.72 L548.01,103.84 L548.64,103.95 L549.26,104.06 L549.89,104.16 L550.52,104.26 L551.14,104.36 L551.77,104.45 L552.39,104.55 L553.02,104.64 L553.64,104.72 L554.27,104.81 L554.89,104.9 L555.52,104.99 L556.15,105.07 L556.77,105.16 L557.4,105.25 L558.02,105.34 L558.65,105.43 L559.27,105.52 L559.9,105.61 L560.53,105.71 L561.15,105.8 L561.78,105.91 L562.4,106.01 L563.03,106.12 L563.65,106.23 L564.28,106.35 L564.91,106.47 L565.53,106.17 L566.16,105.76 L566.78,105.35 L567.41,104.94 L568.03,104.53 L568.66,104.12 L569.29,103.71 L569.91,103.3 L570.54,102.89 L571.16,102.48 L571.79,102.08 L572.41,101.67 L573.04,101.27 L573.66,100.86 L574.29,100.46 L574.92,100.06 L575.54,99.66 L576.17,99.27 L576.79,98.87 L577.42,98.48 L578.04,98.09 L578.67,97.7 L579.3,97.32 L579.92,96.93 L580.55,96.56 L581.17,96.18 L581.8,95.81 L582.42,95.43 L583.05,95.07 L583.68,94.7 L584.3,94.34 L584.93,93.99 L585.55,93.64 L586.18,93.29 L586.8,92.94 L587.43,92.6 L588.06,92.27 L588.68,91.94 L589.31,91.61 L589.93,91.29 L590.56,90.97 L591.18,90.66 L591.81,90.36 L592.43,90.06 L593.06,89.76 L593.69,89.47 L594.31,89.19 L594.94,88.91 L595.56,88.64 L596.19,88.37 L596.81,88.11 L597.44,87.86 L598.07,87.61 L598.69,87.37 L599.32,87.13 L599.94,86.91 L600.57,86.68 L601.19,86.47 L601.82,86.25 L602.45,86.04 L603.07,85.83 L603.7,85.63 L604.32,85.43 L604.95,85.23 L605.57,85.03 L606.2,84.83 L606.83,84.63 L607.45,84.43 L608.08,84.23 L608.7,84.02 L609.33,83.82 L609.95,83.61 L610.58,83.4 L611.2,83.19 L611.83,82.97 L612.46,82.75 L613.08,82.52 L613.71,82.29 L614.33,82.05 L614.96,81.8 L615.58,81.55 L616.21,81.29 L616.84,81.02 L617.46,80.74 L618.09,80.45 L618.71,80.15 L619.34,79.84 L619.96,79.52 L620.59,79.19 L621.22,78.85 L621.84,78.49 L622.47,78.13 L623.09,77.75 L623.72,77.36 L624.34,76.95 L624.97,76.54 L625.6,76.12 L626.22,75.69 L626.85,75.24 L627.47,74.79 L628.1,74.33 L628.72,73.86 L629.35,73.38 L629.97,72.89 L630.6,72.39 L631.23,71.89 L631.85,71.38 L632.48,70.86 L633.1,70.34 L633.73,69.81 L634.35,69.27 L634.98,68.72 L635.61,68.17 L636.23,67.61 L636.86,67.05 L637.48,66.47 L638.11,65.89 L638.73,65.31 L639.36,64.71 L639.99,64.11 L640.61,63.5 L641.24,62.89 L641.86,62.26 L642.49,61.63 L643.11,61 L643.74,60.35 L644.37,59.7 L644.99,59.03 L645.62,58.37 L646.24,57.69 L646.87,57 L647.49,56.31 L648.12,55.61 L648.75,54.9 L649.37,54.19 L650,53.46 L650.62,52.73 L651.25,51.99 L651.87,51.24 L652.5,50.48 L653.12,49.71 L653.75,48.94 L654.38,48.15 L655,47.36 L655.63,46.56 L656.25,45.75 L656.88,44.94 L657.5,44.11 L658.13,43.28 L658.76,42.44 L659.38,41.59 L660.01,40.73 L660.63,39.87 L661.26,38.99 L661.88,38.11 L662.51,37.22 L663.14,36.32 L663.76,35.41 L664.39,34.49 L665.01,33.57 L665.64,32.64 L666.26,31.69 L666.89,30.75 L667.51,29.79 L668.14,28.82 L668.77,27.85 L669.39,26.86 L670.02,25.87 L670.64,24.87 L671.27,23.86 L671.89,22.84 L672.52,21.82 L673.15,20.78 L673.77,19.74 L674.4,18.69 L675.02,17.63 L675.65,16.56 L676.27,15.49 L676.9,14.4 L676.9,115.06 L676.27,114.88 L675.65,114.7 L675.02,114.52 L674.4,114.35 L673.77,114.17 L673.15,114.01 L672.52,113.84 L671.89,113.68 L671.27,113.52 L670.64,113.37 L670.02,113.21 L669.39,113.06 L668.77,112.92 L668.14,112.77 L667.51,112.63 L666.89,112.5 L666.26,112.36 L665.64,112.23 L665.01,112.1 L664.39,111.97 L663.76,111.85 L663.14,111.73 L662.51,111.61 L661.88,111.5 L661.26,111.38 L660.63,111.27 L660.01,111.17 L659.38,111.06 L658.76,110.96 L658.13,110.86 L657.5,110.76 L656.88,110.66 L656.25,110.57 L655.63,110.48 L655,110.39 L654.38,110.31 L653.75,110.22 L653.12,110.14 L652.5,110.06 L651.87,109.98 L651.25,109.91 L650.62,109.84 L650,109.77 L649.37,109.7 L648.75,109.63 L648.12,109.57 L647.49,109.5 L646.87,109.44 L646.24,109.38 L645.62,109.33 L644.99,109.27 L644.37,109.22 L643.74,109.16 L643.11,109.11 L642.49,109.07 L641.86,109.02 L641.24,108.98 L640.61,108.93 L639.99,108.89 L639.36,108.85 L638.73,108.81 L638.11,108.77 L637.48,108.74 L636.86,108.7 L636.23,108.67 L635.61,108.64 L634.98,108.61 L634.35,108.58 L633.73,108.55 L633.1,108.53 L632.48,108.5 L631.85,108.48 L631.23,108.46 L630.6,108.44 L629.97,108.42 L629.35,108.4 L628.72,108.38 L628.1,108.36 L627.47,108.34 L626.85,108.33 L626.22,108.32 L625.6,108.3 L624.97,108.29 L624.34,108.28 L623.72,108.27 L623.09,108.26 L622.47,108.25 L621.84,108.24 L621.22,108.23 L620.59,108.22 L619.96,108.22 L619.34,108.21 L618.71,108.2 L618.09,108.2 L617.46,108.19 L616.84,108.19 L616.21,108.19 L615.58,108.18 L614.96,108.18 L614.33,108.18 L613.71,108.18 L613.08,108.17 L612.46,108.17 L611.83,108.17 L611.2,108.17 L610.58,108.17 L609.95,108.17 L609.33,108.17 L608.7,108.17 L608.08,108.17 L607.45,108.17 L606.83,108.16 L606.2,108.16 L605.57,108.16 L604.95,108.16 L604.32,108.16 L603.7,108.16 L603.07,108.16 L602.45,108.16 L601.82,108.15 L601.19,108.15 L600.57,108.15 L599.94,108.15 L599.32,108.14 L598.69,108.14 L598.07,108.14 L597.44,108.13 L596.81,108.13 L596.19,108.12 L595.56,108.11 L594.94,108.11 L594.31,108.1 L593.69,108.09 L593.06,108.08 L592.43,108.07 L591.81,108.06 L591.18,108.05 L590.56,108.04 L589.93,108.03 L589.31,108.01 L588.68,108 L588.06,107.98 L587.43,107.97 L586.8,107.95 L586.18,107.93 L585.55,107.91 L584.93,107.89 L584.3,107.87 L583.68,107.85 L583.05,107.82 L582.42,107.8 L581.8,107.77 L581.17,107.75 L580.55,107.72 L579.92,107.69 L579.3,107.66 L578.67,107.62 L578.04,107.59 L577.42,107.55 L576.79,107.52 L576.17,107.48 L575.54,107.44 L574.92,107.39 L574.29,107.35 L573.66,107.31 L573.04,107.26 L572.41,107.21 L571.79,107.16 L571.16,107.11 L570.54,107.05 L569.91,107 L569.29,106.94 L568.66,106.88 L568.03,106.82 L567.41,106.76 L566.78,106.69 L566.16,106.63 L565.53,106.56 L564.91,106.54 L564.28,106.73 L563.65,106.91 L563.03,107.09 L562.4,107.27 L561.78,107.44 L561.15,107.61 L560.53,107.78 L559.9,107.94 L559.27,108.1 L558.65,108.26 L558.02,108.41 L557.4,108.56 L556.77,108.7 L556.15,108.85 L555.52,108.99 L554.89,109.12 L554.27,109.26 L553.64,109.39 L553.02,109.51 L552.39,109.64 L551.77,109.76 L551.14,109.88 L550.52,110 L549.89,110.11 L549.26,110.23 L548.64,110.33 L548.01,110.44 L547.39,110.55 L546.76,110.65 L546.14,110.75 L545.51,110.85 L544.88,110.94 L544.26,111.04 L543.63,111.13 L543.01,111.22 L542.38,111.31 L541.76,111.4 L541.13,111.48 L540.5,111.57 L539.88,111.65 L539.25,111.73 L538.63,111.81 L538,111.89 L537.38,111.96 L536.75,112.04 L536.12,112.11 L535.5,112.18 L534.87,112.26 L534.25,112.33 L533.62,112.4 L533,112.47 L532.37,112.53 L531.75,112.6 L531.12,112.67 L530.49,112.73 L529.87,112.8 L529.24,112.86 L528.62,112.93 L527.99,112.99 L527.37,113.05 L526.74,113.12 L526.11,113.18 L525.49,113.24 L524.86,113.31 L524.24,113.37 L523.61,113.43 L522.99,113.49 L522.36,113.56 L521.73,113.62 L521.11,113.68 L520.48,113.75 L519.86,113.81 L519.23,113.88 L518.61,113.94 L517.98,114.01 L517.36,114.07 L516.73,114.14 L516.1,114.21 L515.48,114.28 L514.85,114.35 L514.23,114.42 L513.6,114.49 L512.98,114.56 L512.35,114.63 L511.72,114.71 L511.1,114.78 L510.47,114.86 L509.85,114.94 L509.22,115.02 L508.6,115.1 L507.97,115.18 L507.34,115.27 L506.72,115.35 L506.09,115.44 L505.47,115.53 L504.84,115.62 L504.22,115.72 L503.59,115.81 L502.96,115.91 L502.34,116.01 L501.71,116.11 L501.09,116.21 L500.46,116.32 L499.84,116.43 L499.21,116.54 L498.58,116.65 L497.96,116.77 L497.33,116.89 L496.71,117.01 L496.08,117.13 L495.46,117.26 L494.83,117.39 L494.21,117.52 L493.58,117.65 L492.95,117.79 L492.33,117.93 L491.7,118.08 L491.08,118.23 L490.45,118.38 L489.83,118.53 L489.2,118.69 Z" fill="#ffcccc"/>
<line x1="489.2" y1="106.5" x2="676.9" y2="106.5" stroke="#7a7a7a" stroke-width="1.1" stroke-dasharray="2.2 2.7" stroke-dashoffset="0"/>
<path d="M489.2,96.32 L489.83,96.48 L490.45,96.63 L491.08,96.79 L491.7,96.94 L492.33,97.1 L492.95,97.26 L493.58,97.42 L494.21,97.58 L494.83,97.74 L495.46,97.9 L496.08,98.06 L496.71,98.23 L497.33,98.39 L497.96,98.55 L498.58,98.72 L499.21,98.88 L499.84,99.05 L500.46,99.21 L501.09,99.38 L501.71,99.54 L502.34,99.71 L502.96,99.87 L503.59,100.04 L504.22,100.21 L504.84,100.37 L505.47,100.54 L506.09,100.7 L506.72,100.87 L507.34,101.03 L507.97,101.19 L508.6,101.36 L509.22,101.52 L509.85,101.68 L510.47,101.84 L511.1,102 L511.72,102.16 L512.35,102.32 L512.98,102.48 L513.6,102.64 L514.23,102.79 L514.85,102.95 L515.48,103.1 L516.1,103.25 L516.73,103.4 L517.36,103.55 L517.98,103.7 L518.61,103.85 L519.23,104 L519.86,104.14 L520.48,104.28 L521.11,104.42 L521.73,104.56 L522.36,104.7 L522.99,104.83 L523.61,104.97 L524.24,105.1 L524.86,105.23 L525.49,105.35 L526.11,105.48 L526.74,105.6 L527.37,105.72 L527.99,105.84 L528.62,105.96 L529.24,106.07 L529.87,106.18 L530.49,106.29 L531.12,106.39 L531.75,106.5 L532.37,106.6 L533,106.69 L533.62,106.79 L534.25,106.88 L534.87,106.97 L535.5,107.05 L536.12,107.13 L536.75,107.21 L537.38,107.29 L538,107.36 L538.63,107.43 L539.25,107.5 L539.88,107.56 L540.5,107.62 L541.13,107.67 L541.76,107.72 L542.38,107.77 L543.01,107.81 L543.63,107.86 L544.26,107.89 L544.88,107.92 L545.51,107.95 L546.14,107.98 L546.76,108 L547.39,108.01 L548.01,108.02 L548.64,108.03 L549.26,108.04 L549.89,108.03 L550.52,108.03 L551.14,108.02 L551.77,108 L552.39,107.98 L553.02,107.96 L553.64,107.93 L554.27,107.9 L554.89,107.86 L555.52,107.81 L556.15,107.77 L556.77,107.71 L557.4,107.65 L558.02,107.59 L558.65,107.52 L559.27,107.44 L559.9,107.37 L560.53,107.28 L561.15,107.19 L561.78,107.09 L562.4,106.99 L563.03,106.88 L563.65,106.77 L564.28,106.65 L564.91,106.53 L565.53,106.36 L566.16,106.18 L566.78,106 L567.41,105.83 L568.03,105.65 L568.66,105.48 L569.29,105.31 L569.91,105.14 L570.54,104.97 L571.16,104.8 L571.79,104.63 L572.41,104.46 L573.04,104.3 L573.66,104.14 L574.29,103.97 L574.92,103.81 L575.54,103.65 L576.17,103.49 L576.79,103.33 L577.42,103.17 L578.04,103.02 L578.67,102.86 L579.3,102.7 L579.92,102.55 L580.55,102.4 L581.17,102.25 L581.8,102.09 L582.42,101.94 L583.05,101.8 L583.68,101.65 L584.3,101.5 L584.93,101.35 L585.55,101.21 L586.18,101.06 L586.8,100.92 L587.43,100.77 L588.06,100.63 L588.68,100.49 L589.31,100.35 L589.93,100.21 L590.56,100.07 L591.18,99.93 L591.81,99.79 L592.43,99.66 L593.06,99.52 L593.69,99.38 L594.31,99.25 L594.94,99.11 L595.56,98.98 L596.19,98.85 L596.81,98.71 L597.44,98.58 L598.07,98.45 L598.69,98.32 L599.32,98.19 L599.94,98.06 L600.57,97.93 L601.19,97.8 L601.82,97.68 L602.45,97.55 L603.07,97.42 L603.7,97.3 L604.32,97.17 L604.95,97.04 L605.57,96.92 L606.2,96.8 L606.83,96.67 L607.45,96.55 L608.08,96.43 L608.7,96.3 L609.33,96.18 L609.95,96.06 L610.58,95.94 L611.2,95.82 L611.83,95.7 L612.46,95.58 L613.08,95.46 L613.71,95.34 L614.33,95.22 L614.96,95.1 L615.58,94.98 L616.21,94.86 L616.84,94.74 L617.46,94.62 L618.09,94.51 L618.71,94.39 L619.34,94.27 L619.96,94.15 L620.59,94.04 L621.22,93.92 L621.84,93.8 L622.47,93.69 L623.09,93.57 L623.72,93.45 L624.34,93.34 L624.97,93.22 L625.6,93.1 L626.22,92.99 L626.85,92.87 L627.47,92.76 L628.1,92.64 L628.72,92.53 L629.35,92.41 L629.97,92.29 L630.6,92.18 L631.23,92.06 L631.85,91.95 L632.48,91.83 L633.1,91.72 L633.73,91.6 L634.35,91.48 L634.98,91.37 L635.61,91.25 L636.23,91.14 L636.86,91.02 L637.48,90.9 L638.11,90.79 L638.73,90.67 L639.36,90.55 L639.99,90.43 L640.61,90.32 L641.24,90.2 L641.86,90.08 L642.49,89.96 L643.11,89.84 L643.74,89.73 L644.37,89.61 L644.99,89.49 L645.62,89.37 L646.24,89.25 L646.87,89.13 L647.49,89.01 L648.12,88.89 L648.75,88.77 L649.37,88.65 L650,88.52 L650.62,88.4 L651.25,88.28 L651.87,88.16 L652.5,88.03 L653.12,87.91 L653.75,87.78 L654.38,87.66 L655,87.53 L655.63,87.41 L656.25,87.28 L656.88,87.15 L657.5,87.03 L658.13,86.9 L658.76,86.77 L659.38,86.64 L660.01,86.51 L660.63,86.38 L661.26,86.25 L661.88,86.12 L662.51,85.99 L663.14,85.86 L663.76,85.72 L664.39,85.59 L665.01,85.46 L665.64,85.32 L666.26,85.18 L666.89,85.05 L667.51,84.91 L668.14,84.77 L668.77,84.63 L669.39,84.49 L670.02,84.35 L670.64,84.21 L671.27,84.07 L671.89,83.93 L672.52,83.78 L673.15,83.64 L673.77,83.5 L674.4,83.35 L675.02,83.2 L675.65,83.06 L676.27,82.91 L676.9,82.76" fill="none" stroke="#ff2a2a" stroke-width="0.9"/>
<path d="M489.2,14.75 V143.2 H676.9" fill="none" stroke="#c8c8c8" stroke-width="1"/>
<line x1="488" y1="143.2" x2="489.2" y2="143.2" stroke="#999" stroke-width="0.6"/>
<text x="477.69" y="145.5" class="t" font-size="5.6" textLength="8.91" lengthAdjust="spacingAndGlyphs">0.0</text>
<line x1="488" y1="124.85" x2="489.2" y2="124.85" stroke="#999" stroke-width="0.6"/>
<text x="477.69" y="127.15" class="t" font-size="5.6" textLength="8.91" lengthAdjust="spacingAndGlyphs">0.5</text>
<line x1="488" y1="106.5" x2="489.2" y2="106.5" stroke="#999" stroke-width="0.6"/>
<text x="477.69" y="108.8" class="t" font-size="5.6" textLength="8.91" lengthAdjust="spacingAndGlyphs">1.0</text>
<line x1="488" y1="88.15" x2="489.2" y2="88.15" stroke="#999" stroke-width="0.6"/>
<text x="477.69" y="90.45" class="t" font-size="5.6" textLength="8.91" lengthAdjust="spacingAndGlyphs">1.5</text>
<line x1="488" y1="69.8" x2="489.2" y2="69.8" stroke="#999" stroke-width="0.6"/>
<text x="477.69" y="72.1" class="t" font-size="5.6" textLength="8.91" lengthAdjust="spacingAndGlyphs">2.0</text>
<line x1="488" y1="51.45" x2="489.2" y2="51.45" stroke="#999" stroke-width="0.6"/>
<text x="477.69" y="53.75" class="t" font-size="5.6" textLength="8.91" lengthAdjust="spacingAndGlyphs">2.5</text>
<line x1="488" y1="33.1" x2="489.2" y2="33.1" stroke="#999" stroke-width="0.6"/>
<text x="477.69" y="35.4" class="t" font-size="5.6" textLength="8.91" lengthAdjust="spacingAndGlyphs">3.0</text>
<line x1="488" y1="14.75" x2="489.2" y2="14.75" stroke="#999" stroke-width="0.6"/>
<text x="477.69" y="17.05" class="t" font-size="5.6" textLength="8.91" lengthAdjust="spacingAndGlyphs">3.5</text>
<line x1="489.2" y1="143.2" x2="489.2" y2="144.4" stroke="#999" stroke-width="0.6"/>
<text x="485.64" y="148.9" class="t" font-size="5.6" textLength="7.13" lengthAdjust="spacingAndGlyphs">20</text>
<line x1="526.74" y1="143.2" x2="526.74" y2="144.4" stroke="#999" stroke-width="0.6"/>
<text x="523.18" y="148.9" class="t" font-size="5.6" textLength="7.13" lengthAdjust="spacingAndGlyphs">25</text>
<line x1="564.28" y1="143.2" x2="564.28" y2="144.4" stroke="#999" stroke-width="0.6"/>
<text x="560.72" y="148.9" class="t" font-size="5.6" textLength="7.13" lengthAdjust="spacingAndGlyphs">30</text>
<line x1="601.82" y1="143.2" x2="601.82" y2="144.4" stroke="#999" stroke-width="0.6"/>
<text x="598.26" y="148.9" class="t" font-size="5.6" textLength="7.13" lengthAdjust="spacingAndGlyphs">35</text>
<line x1="639.36" y1="143.2" x2="639.36" y2="144.4" stroke="#999" stroke-width="0.6"/>
<text x="635.8" y="148.9" class="t" font-size="5.6" textLength="7.13" lengthAdjust="spacingAndGlyphs">40</text>
<line x1="676.9" y1="143.2" x2="676.9" y2="144.4" stroke="#999" stroke-width="0.6"/>
<text x="673.34" y="148.9" class="t" font-size="5.6" textLength="7.13" lengthAdjust="spacingAndGlyphs">45</text>
<text x="557.5" y="154.5" class="t" font-size="5.6" textLength="56.3" lengthAdjust="spacingAndGlyphs">Maternal age (years)</text>
<text transform="translate(475.31,102.6) rotate(-90)" class="s" font-size="6.2" textLength="48.4" lengthAdjust="spacingAndGlyphs">Odds ratio (95% CI)</text>
<text x="504.4" y="20.5" class="t" font-size="5.6" textLength="60.4" lengthAdjust="spacingAndGlyphs">P for overall = 0.220</text>
<text x="504.4" y="25.8" class="t" font-size="5.6" textLength="67.6" lengthAdjust="spacingAndGlyphs">P for nonlinear = 0.332</text>
<path d="M139.2,273.88 L139.91,273.84 L140.63,273.8 L141.34,273.76 L142.05,273.72 L142.76,273.67 L143.48,273.63 L144.19,273.58 L144.9,273.53 L145.62,273.48 L146.33,273.43 L147.04,273.38 L147.76,273.33 L148.47,273.28 L149.18,273.22 L149.89,273.17 L150.61,273.11 L151.32,273.06 L152.03,273 L152.75,272.94 L153.46,272.88 L154.17,272.82 L154.89,272.76 L155.6,272.7 L156.31,272.64 L157.02,272.57 L157.74,272.51 L158.45,272.44 L159.16,272.38 L159.88,272.31 L160.59,272.25 L161.3,272.18 L162.02,272.11 L162.73,272.05 L163.44,271.98 L164.16,271.91 L164.87,271.84 L165.58,271.77 L166.29,271.7 L167.01,271.63 L167.72,271.56 L168.43,271.49 L169.15,271.42 L169.86,271.35 L170.57,271.28 L171.28,271.21 L172,271.14 L172.71,271.07 L173.42,271 L174.14,270.93 L174.85,270.86 L175.56,270.79 L176.28,270.72 L176.99,270.65 L177.7,270.58 L178.41,270.51 L179.13,270.44 L179.84,270.37 L180.55,270.3 L181.27,270.23 L181.98,270.17 L182.69,270.1 L183.41,270.03 L184.12,269.96 L184.83,269.9 L185.54,269.83 L186.26,269.77 L186.97,269.7 L187.68,269.64 L188.4,269.57 L189.11,269.51 L189.82,269.45 L190.54,269.39 L191.25,269.33 L191.96,269.27 L192.68,269.21 L193.39,269.15 L194.1,269.09 L194.81,269.04 L195.53,268.98 L196.24,268.93 L196.95,268.87 L197.67,268.82 L198.38,268.77 L199.09,268.72 L199.8,268.67 L200.52,268.62 L201.23,268.57 L201.94,268.53 L202.66,268.48 L203.37,268.44 L204.08,268.4 L204.8,268.36 L205.51,268.32 L206.22,268.28 L206.93,268.24 L207.65,268.21 L208.36,268.17 L209.07,268.14 L209.79,268.11 L210.5,268.08 L211.21,268.05 L211.93,268.03 L212.64,268 L213.35,267.98 L214.06,267.96 L214.78,267.94 L215.49,267.92 L216.2,267.91 L216.92,267.89 L217.63,267.88 L218.34,267.87 L219.06,267.86 L219.77,267.86 L220.48,267.85 L221.19,267.85 L221.91,267.85 L222.62,267.85 L223.33,267.86 L224.05,267.86 L224.76,267.87 L225.47,267.88 L226.19,267.89 L226.9,267.84 L227.61,267.73 L228.32,267.63 L229.04,267.52 L229.75,267.41 L230.46,267.3 L231.18,267.19 L231.89,267.08 L232.6,266.97 L233.32,266.85 L234.03,266.74 L234.74,266.62 L235.45,266.5 L236.17,266.38 L236.88,266.26 L237.59,266.14 L238.31,266.01 L239.02,265.89 L239.73,265.76 L240.45,265.63 L241.16,265.5 L241.87,265.37 L242.58,265.24 L243.3,265.11 L244.01,264.97 L244.72,264.84 L245.44,264.7 L246.15,264.56 L246.86,264.42 L247.58,264.28 L248.29,264.13 L249,263.99 L249.71,263.84 L250.43,263.7 L251.14,263.55 L251.85,263.4 L252.57,263.24 L253.28,263.09 L253.99,262.93 L254.71,262.78 L255.42,262.62 L256.13,262.46 L256.85,262.3 L257.56,262.14 L258.27,261.97 L258.98,261.81 L259.7,261.64 L260.41,261.47 L261.12,261.3 L261.84,261.13 L262.55,260.95 L263.26,260.78 L263.97,260.6 L264.69,260.42 L265.4,260.24 L266.11,260.06 L266.83,259.88 L267.54,259.69 L268.25,259.5 L268.97,259.31 L269.68,259.12 L270.39,258.93 L271.11,258.74 L271.82,258.54 L272.53,258.35 L273.24,258.15 L273.96,257.95 L274.67,257.75 L275.38,257.54 L276.1,257.34 L276.81,257.13 L277.52,256.92 L278.24,256.71 L278.95,256.5 L279.66,256.28 L280.37,256.07 L281.09,255.85 L281.8,255.63 L282.51,255.41 L283.23,255.18 L283.94,254.96 L284.65,254.73 L285.36,254.5 L286.08,254.27 L286.79,254.04 L287.5,253.8 L288.22,253.57 L288.93,253.33 L289.64,253.09 L290.36,252.85 L291.07,252.6 L291.78,252.36 L292.5,252.11 L293.21,251.86 L293.92,251.61 L294.63,251.35 L295.35,251.1 L296.06,250.84 L296.77,250.58 L297.49,250.32 L298.2,250.06 L298.91,249.79 L299.62,249.52 L300.34,249.25 L301.05,248.98 L301.76,248.71 L302.48,248.43 L303.19,248.15 L303.9,247.88 L304.62,247.59 L305.33,247.31 L306.04,247.02 L306.75,246.74 L307.47,246.45 L308.18,246.15 L308.89,245.86 L309.61,245.56 L310.32,245.27 L311.03,244.96 L311.75,244.66 L312.46,244.36 L313.17,244.05 L313.88,243.74 L314.6,243.43 L315.31,243.12 L316.02,242.8 L316.74,242.48 L317.45,242.16 L318.16,241.84 L318.88,241.52 L319.59,241.19 L320.3,240.86 L321.01,240.53 L321.73,240.2 L322.44,239.86 L323.15,239.53 L323.87,239.19 L324.58,238.84 L325.29,238.5 L326.01,238.15 L326.72,237.8 L327.43,237.45 L328.14,237.1 L328.86,236.74 L329.57,236.38 L330.28,236.02 L331,235.66 L331.71,235.3 L332.42,234.93 L333.14,234.56 L333.85,234.19 L334.56,233.81 L335.27,233.43 L335.99,233.05 L336.7,232.67 L337.41,232.29 L338.13,231.9 L338.84,231.51 L339.55,231.12 L340.27,230.73 L340.98,230.33 L341.69,229.93 L342.4,229.53 L343.12,229.13 L343.83,228.72 L344.54,228.31 L345.26,227.9 L345.97,227.49 L346.68,227.07 L347.4,226.65 L348.11,226.23 L348.82,225.81 L349.53,225.38 L350.25,224.95 L350.96,224.52 L351.67,224.09 L352.39,223.65 L353.1,223.21 L353.1,270.97 L352.39,270.89 L351.67,270.82 L350.96,270.76 L350.25,270.69 L349.53,270.63 L348.82,270.56 L348.11,270.51 L347.4,270.45 L346.68,270.39 L345.97,270.34 L345.26,270.29 L344.54,270.24 L343.83,270.2 L343.12,270.15 L342.4,270.11 L341.69,270.07 L340.98,270.03 L340.27,269.99 L339.55,269.96 L338.84,269.93 L338.13,269.9 L337.41,269.87 L336.7,269.84 L335.99,269.81 L335.27,269.79 L334.56,269.77 L333.85,269.74 L333.14,269.73 L332.42,269.71 L331.71,269.69 L331,269.68 L330.28,269.66 L329.57,269.65 L328.86,269.64 L328.14,269.63 L327.43,269.63 L326.72,269.62 L326.01,269.62 L325.29,269.61 L324.58,269.61 L323.87,269.61 L323.15,269.61 L322.44,269.61 L321.73,269.61 L321.01,269.62 L320.3,269.62 L319.59,269.63 L318.88,269.64 L318.16,269.64 L317.45,269.65 L316.74,269.66 L316.02,269.67 L315.31,269.69 L314.6,269.7 L313.88,269.71 L313.17,269.73 L312.46,269.74 L311.75,269.76 L311.03,269.77 L310.32,269.79 L309.61,269.81 L308.89,269.83 L308.18,269.85 L307.47,269.87 L306.75,269.89 L306.04,269.91 L305.33,269.93 L304.62,269.95 L303.9,269.98 L303.19,270 L302.48,270.02 L301.76,270.05 L301.05,270.07 L300.34,270.09 L299.62,270.12 L298.91,270.14 L298.2,270.17 L297.49,270.19 L296.77,270.22 L296.06,270.25 L295.35,270.27 L294.63,270.3 L293.92,270.32 L293.21,270.35 L292.5,270.37 L291.78,270.4 L291.07,270.43 L290.36,270.45 L289.64,270.48 L288.93,270.5 L288.22,270.53 L287.5,270.55 L286.79,270.58 L286.08,270.6 L285.36,270.63 L284.65,270.65 L283.94,270.68 L283.23,270.7 L282.51,270.72 L281.8,270.74 L281.09,270.77 L280.37,270.79 L279.66,270.81 L278.95,270.83 L278.24,270.85 L277.52,270.87 L276.81,270.89 L276.1,270.91 L275.38,270.92 L274.67,270.94 L273.96,270.96 L273.24,270.97 L272.53,270.99 L271.82,271 L271.11,271.01 L270.39,271.02 L269.68,271.03 L268.97,271.04 L268.25,271.05 L267.54,271.06 L266.83,271.06 L266.11,271.07 L265.4,271.07 L264.69,271.07 L263.97,271.07 L263.26,271.07 L262.55,271.07 L261.84,271.06 L261.12,271.06 L260.41,271.05 L259.7,271.04 L258.98,271.03 L258.27,271.02 L257.56,271 L256.85,270.99 L256.13,270.97 L255.42,270.95 L254.71,270.92 L253.99,270.9 L253.28,270.87 L252.57,270.84 L251.85,270.81 L251.14,270.78 L250.43,270.74 L249.71,270.71 L249,270.67 L248.29,270.62 L247.58,270.58 L246.86,270.53 L246.15,270.48 L245.44,270.43 L244.72,270.37 L244.01,270.31 L243.3,270.25 L242.58,270.19 L241.87,270.12 L241.16,270.05 L240.45,269.98 L239.73,269.9 L239.02,269.82 L238.31,269.74 L237.59,269.66 L236.88,269.57 L236.17,269.48 L235.45,269.39 L234.74,269.29 L234.03,269.19 L233.32,269.08 L232.6,268.98 L231.89,268.86 L231.18,268.75 L230.46,268.63 L229.75,268.51 L229.04,268.38 L228.32,268.25 L227.61,268.12 L226.9,267.99 L226.19,267.94 L225.47,268.03 L224.76,268.14 L224.05,268.25 L223.33,268.37 L222.62,268.5 L221.91,268.63 L221.19,268.77 L220.48,268.91 L219.77,269.06 L219.06,269.22 L218.34,269.38 L217.63,269.55 L216.92,269.73 L216.2,269.91 L215.49,270.09 L214.78,270.29 L214.06,270.48 L213.35,270.68 L212.64,270.89 L211.93,271.1 L211.21,271.32 L210.5,271.54 L209.79,271.77 L209.07,272 L208.36,272.23 L207.65,272.47 L206.93,272.72 L206.22,272.97 L205.51,273.22 L204.8,273.47 L204.08,273.73 L203.37,274 L202.66,274.26 L201.94,274.53 L201.23,274.81 L200.52,275.08 L199.8,275.36 L199.09,275.65 L198.38,275.93 L197.67,276.22 L196.95,276.51 L196.24,276.81 L195.53,277.11 L194.81,277.4 L194.1,277.71 L193.39,278.01 L192.68,278.32 L191.96,278.62 L191.25,278.93 L190.54,279.24 L189.82,279.56 L189.11,279.87 L188.4,280.19 L187.68,280.5 L186.97,280.82 L186.26,281.14 L185.54,281.46 L184.83,281.78 L184.12,282.11 L183.41,282.43 L182.69,282.75 L181.98,283.08 L181.27,283.4 L180.55,283.72 L179.84,284.05 L179.13,284.37 L178.41,284.7 L177.7,285.02 L176.99,285.34 L176.28,285.67 L175.56,285.99 L174.85,286.31 L174.14,286.63 L173.42,286.96 L172.71,287.28 L172,287.59 L171.28,287.91 L170.57,288.23 L169.86,288.54 L169.15,288.86 L168.43,289.17 L167.72,289.48 L167.01,289.79 L166.29,290.09 L165.58,290.4 L164.87,290.7 L164.16,291 L163.44,291.29 L162.73,291.59 L162.02,291.88 L161.3,292.17 L160.59,292.46 L159.88,292.74 L159.16,293.02 L158.45,293.3 L157.74,293.57 L157.02,293.85 L156.31,294.11 L155.6,294.38 L154.89,294.64 L154.17,294.89 L153.46,295.15 L152.75,295.4 L152.03,295.64 L151.32,295.88 L150.61,296.12 L149.89,296.35 L149.18,296.58 L148.47,296.8 L147.76,297.02 L147.04,297.23 L146.33,297.44 L145.62,297.64 L144.9,297.84 L144.19,298.03 L143.48,298.22 L142.76,298.4 L142.05,298.58 L141.34,298.75 L140.63,298.91 L139.91,299.07 L139.2,299.22 Z" fill="#ffcccc"/>
<line x1="139.2" y1="267.9" x2="353.1" y2="267.9" stroke="#8a8a8a" stroke-width="1.1" stroke-dasharray="2.6 2.9" stroke-dashoffset="0"/>
<path d="M139.2,288.31 L139.91,288.17 L140.63,288.01 L141.34,287.86 L142.05,287.7 L142.76,287.54 L143.48,287.37 L144.19,287.21 L144.9,287.04 L145.62,286.87 L146.33,286.69 L147.04,286.51 L147.76,286.33 L148.47,286.15 L149.18,285.97 L149.89,285.78 L150.61,285.59 L151.32,285.4 L152.03,285.21 L152.75,285.01 L153.46,284.81 L154.17,284.62 L154.89,284.42 L155.6,284.21 L156.31,284.01 L157.02,283.8 L157.74,283.6 L158.45,283.39 L159.16,283.18 L159.88,282.97 L160.59,282.76 L161.3,282.54 L162.02,282.33 L162.73,282.11 L163.44,281.9 L164.16,281.68 L164.87,281.46 L165.58,281.25 L166.29,281.03 L167.01,280.81 L167.72,280.59 L168.43,280.37 L169.15,280.15 L169.86,279.93 L170.57,279.71 L171.28,279.49 L172,279.27 L172.71,279.05 L173.42,278.82 L174.14,278.6 L174.85,278.38 L175.56,278.16 L176.28,277.94 L176.99,277.73 L177.7,277.51 L178.41,277.29 L179.13,277.07 L179.84,276.86 L180.55,276.64 L181.27,276.43 L181.98,276.21 L182.69,276 L183.41,275.79 L184.12,275.58 L184.83,275.37 L185.54,275.16 L186.26,274.96 L186.97,274.75 L187.68,274.55 L188.4,274.35 L189.11,274.15 L189.82,273.95 L190.54,273.75 L191.25,273.56 L191.96,273.37 L192.68,273.18 L193.39,272.99 L194.1,272.8 L194.81,272.62 L195.53,272.44 L196.24,272.26 L196.95,272.09 L197.67,271.91 L198.38,271.74 L199.09,271.57 L199.8,271.41 L200.52,271.24 L201.23,271.09 L201.94,270.93 L202.66,270.77 L203.37,270.62 L204.08,270.48 L204.8,270.33 L205.51,270.19 L206.22,270.06 L206.93,269.92 L207.65,269.79 L208.36,269.67 L209.07,269.54 L209.79,269.42 L210.5,269.31 L211.21,269.2 L211.93,269.09 L212.64,268.99 L213.35,268.89 L214.06,268.79 L214.78,268.7 L215.49,268.62 L216.2,268.54 L216.92,268.46 L217.63,268.39 L218.34,268.32 L219.06,268.26 L219.77,268.2 L220.48,268.14 L221.19,268.1 L221.91,268.05 L222.62,268.01 L223.33,267.98 L224.05,267.95 L224.76,267.93 L225.47,267.91 L226.19,267.9 L226.9,267.91 L227.61,267.93 L228.32,267.95 L229.04,267.96 L229.75,267.97 L230.46,267.98 L231.18,267.99 L231.89,267.99 L232.6,267.99 L233.32,267.99 L234.03,267.99 L234.74,267.99 L235.45,267.98 L236.17,267.97 L236.88,267.96 L237.59,267.94 L238.31,267.93 L239.02,267.91 L239.73,267.89 L240.45,267.87 L241.16,267.84 L241.87,267.81 L242.58,267.79 L243.3,267.75 L244.01,267.72 L244.72,267.69 L245.44,267.65 L246.15,267.61 L246.86,267.57 L247.58,267.53 L248.29,267.48 L249,267.44 L249.71,267.39 L250.43,267.34 L251.14,267.28 L251.85,267.23 L252.57,267.17 L253.28,267.12 L253.99,267.06 L254.71,267 L255.42,266.93 L256.13,266.87 L256.85,266.8 L257.56,266.73 L258.27,266.66 L258.98,266.59 L259.7,266.52 L260.41,266.44 L261.12,266.37 L261.84,266.29 L262.55,266.21 L263.26,266.13 L263.97,266.05 L264.69,265.96 L265.4,265.88 L266.11,265.79 L266.83,265.7 L267.54,265.61 L268.25,265.52 L268.97,265.43 L269.68,265.34 L270.39,265.24 L271.11,265.15 L271.82,265.05 L272.53,264.95 L273.24,264.85 L273.96,264.75 L274.67,264.65 L275.38,264.54 L276.1,264.44 L276.81,264.33 L277.52,264.23 L278.24,264.12 L278.95,264.01 L279.66,263.9 L280.37,263.79 L281.09,263.67 L281.8,263.56 L282.51,263.45 L283.23,263.33 L283.94,263.21 L284.65,263.1 L285.36,262.98 L286.08,262.86 L286.79,262.74 L287.5,262.62 L288.22,262.5 L288.93,262.37 L289.64,262.25 L290.36,262.13 L291.07,262 L291.78,261.88 L292.5,261.75 L293.21,261.62 L293.92,261.5 L294.63,261.37 L295.35,261.24 L296.06,261.11 L296.77,260.98 L297.49,260.85 L298.2,260.71 L298.91,260.58 L299.62,260.45 L300.34,260.32 L301.05,260.18 L301.76,260.05 L302.48,259.91 L303.19,259.78 L303.9,259.64 L304.62,259.51 L305.33,259.37 L306.04,259.24 L306.75,259.1 L307.47,258.96 L308.18,258.82 L308.89,258.69 L309.61,258.55 L310.32,258.41 L311.03,258.27 L311.75,258.13 L312.46,257.99 L313.17,257.85 L313.88,257.72 L314.6,257.58 L315.31,257.44 L316.02,257.3 L316.74,257.16 L317.45,257.02 L318.16,256.88 L318.88,256.74 L319.59,256.6 L320.3,256.46 L321.01,256.32 L321.73,256.18 L322.44,256.04 L323.15,255.9 L323.87,255.76 L324.58,255.62 L325.29,255.48 L326.01,255.34 L326.72,255.21 L327.43,255.07 L328.14,254.93 L328.86,254.79 L329.57,254.65 L330.28,254.52 L331,254.38 L331.71,254.24 L332.42,254.11 L333.14,253.97 L333.85,253.83 L334.56,253.7 L335.27,253.56 L335.99,253.43 L336.7,253.3 L337.41,253.16 L338.13,253.03 L338.84,252.9 L339.55,252.77 L340.27,252.63 L340.98,252.5 L341.69,252.37 L342.4,252.24 L343.12,252.12 L343.83,251.99 L344.54,251.86 L345.26,251.73 L345.97,251.61 L346.68,251.48 L347.4,251.36 L348.11,251.23 L348.82,251.11 L349.53,250.99 L350.25,250.87 L350.96,250.75 L351.67,250.63 L352.39,250.51 L353.1,250.39" fill="none" stroke="#ff2a2a" stroke-width="0.9"/>
<path d="M139.2,202.3 V333.5 H353.1" fill="none" stroke="#c8c8c8" stroke-width="1"/>
<line x1="138" y1="333.5" x2="139.2" y2="333.5" stroke="#999" stroke-width="0.6"/>
<text x="126.12" y="335.8" class="t" font-size="6.1" textLength="10.48" lengthAdjust="spacingAndGlyphs">0.0</text>
<line x1="138" y1="300.7" x2="139.2" y2="300.7" stroke="#999" stroke-width="0.6"/>
<text x="126.12" y="303" class="t" font-size="6.1" textLength="10.48" lengthAdjust="spacingAndGlyphs">0.5</text>
<line x1="138" y1="267.9" x2="139.2" y2="267.9" stroke="#999" stroke-width="0.6"/>
<text x="126.12" y="270.2" class="t" font-size="6.1" textLength="10.48" lengthAdjust="spacingAndGlyphs">1.0</text>
<line x1="138" y1="235.1" x2="139.2" y2="235.1" stroke="#999" stroke-width="0.6"/>
<text x="126.12" y="237.4" class="t" font-size="6.1" textLength="10.48" lengthAdjust="spacingAndGlyphs">1.5</text>
<line x1="138" y1="202.3" x2="139.2" y2="202.3" stroke="#999" stroke-width="0.6"/>
<text x="126.12" y="204.6" class="t" font-size="6.1" textLength="10.48" lengthAdjust="spacingAndGlyphs">2.0</text>
<line x1="139.2" y1="333.5" x2="139.2" y2="334.7" stroke="#999" stroke-width="0.6"/>
<text x="135.01" y="339.2" class="t" font-size="6.1" textLength="8.38" lengthAdjust="spacingAndGlyphs">20</text>
<line x1="181.98" y1="333.5" x2="181.98" y2="334.7" stroke="#999" stroke-width="0.6"/>
<text x="177.79" y="339.2" class="t" font-size="6.1" textLength="8.38" lengthAdjust="spacingAndGlyphs">25</text>
<line x1="224.76" y1="333.5" x2="224.76" y2="334.7" stroke="#999" stroke-width="0.6"/>
<text x="220.57" y="339.2" class="t" font-size="6.1" textLength="8.38" lengthAdjust="spacingAndGlyphs">30</text>
<line x1="267.54" y1="333.5" x2="267.54" y2="334.7" stroke="#999" stroke-width="0.6"/>
<text x="263.35" y="339.2" class="t" font-size="6.1" textLength="8.38" lengthAdjust="spacingAndGlyphs">35</text>
<line x1="310.32" y1="333.5" x2="310.32" y2="334.7" stroke="#999" stroke-width="0.6"/>
<text x="306.13" y="339.2" class="t" font-size="6.1" textLength="8.38" lengthAdjust="spacingAndGlyphs">40</text>
<line x1="353.1" y1="333.5" x2="353.1" y2="334.7" stroke="#999" stroke-width="0.6"/>
<text x="348.91" y="339.2" class="t" font-size="6.1" textLength="8.38" lengthAdjust="spacingAndGlyphs">45</text>
<text x="217.9" y="344.5" class="t" font-size="6.1" textLength="64.4" lengthAdjust="spacingAndGlyphs">Maternal age (years)</text>
<text transform="translate(122.91,292.4) rotate(-90)" class="s" font-size="6.2" textLength="50.6" lengthAdjust="spacingAndGlyphs">Odds ratio (95% CI)</text>
<text x="156.9" y="208.1" class="t" font-size="6.1" textLength="68.3" lengthAdjust="spacingAndGlyphs">P for overall = 0.007</text>
<text x="156.9" y="213.5" class="t" font-size="6.1" textLength="77.2" lengthAdjust="spacingAndGlyphs">P for nonlinear = 0.242</text>
<path d="M401.3,273.86 L401.97,274.16 L402.64,274.44 L403.31,274.73 L403.97,275.02 L404.64,275.3 L405.31,275.58 L405.98,275.86 L406.65,276.13 L407.31,276.41 L407.98,276.68 L408.65,276.95 L409.32,277.21 L409.99,277.48 L410.66,277.74 L411.32,278 L411.99,278.26 L412.66,278.51 L413.33,278.76 L414,279.02 L414.67,279.26 L415.34,279.51 L416,279.75 L416.67,280 L417.34,280.24 L418.01,280.47 L418.68,280.71 L419.35,280.94 L420.01,281.17 L420.68,281.4 L421.35,281.63 L422.02,281.85 L422.69,282.08 L423.36,282.3 L424.02,282.52 L424.69,282.73 L425.36,282.95 L426.03,283.16 L426.7,283.37 L427.37,283.58 L428.03,283.78 L428.7,283.99 L429.37,284.19 L430.04,284.39 L430.71,284.59 L431.38,284.78 L432.04,284.97 L432.71,285.17 L433.38,285.36 L434.05,285.54 L434.72,285.73 L435.38,285.91 L436.05,286.09 L436.72,286.27 L437.39,286.45 L438.06,286.63 L438.73,286.8 L439.39,286.97 L440.06,287.14 L440.73,287.31 L441.4,287.48 L442.07,287.64 L442.74,287.81 L443.4,287.97 L444.07,288.12 L444.74,288.28 L445.41,288.44 L446.08,288.59 L446.75,288.74 L447.42,288.89 L448.08,289.04 L448.75,289.18 L449.42,289.33 L450.09,289.47 L450.76,289.61 L451.43,289.75 L452.09,289.89 L452.76,290.02 L453.43,290.15 L454.1,290.29 L454.77,290.41 L455.44,290.54 L456.1,290.67 L456.77,290.79 L457.44,290.92 L458.11,291.04 L458.78,291.16 L459.44,291.27 L460.11,291.39 L460.78,291.5 L461.45,291.62 L462.12,291.73 L462.79,291.84 L463.45,291.94 L464.12,292.05 L464.79,292.15 L465.46,292.26 L466.13,292.36 L466.8,292.46 L467.46,292.56 L468.13,292.65 L468.8,292.75 L469.47,292.84 L470.14,292.93 L470.81,293.02 L471.48,293.11 L472.14,293.2 L472.81,293.28 L473.48,293.36 L474.15,293.45 L474.82,293.53 L475.49,293.61 L476.15,293.68 L476.82,293.76 L477.49,293.83 L478.16,293.91 L478.83,293.98 L479.5,294.05 L480.16,294.12 L480.83,294.18 L481.5,294.25 L482.17,293.93 L482.84,293.62 L483.5,293.33 L484.17,293.04 L484.84,292.75 L485.51,292.48 L486.18,292.22 L486.85,291.96 L487.51,291.71 L488.18,291.47 L488.85,291.23 L489.52,291 L490.19,290.78 L490.86,290.56 L491.52,290.35 L492.19,290.14 L492.86,289.94 L493.53,289.75 L494.2,289.56 L494.87,289.37 L495.53,289.19 L496.2,289.01 L496.87,288.84 L497.54,288.66 L498.21,288.5 L498.88,288.33 L499.54,288.17 L500.21,288.01 L500.88,287.85 L501.55,287.69 L502.22,287.53 L502.89,287.38 L503.55,287.22 L504.22,287.07 L504.89,286.92 L505.56,286.76 L506.23,286.61 L506.9,286.45 L507.56,286.3 L508.23,286.14 L508.9,285.98 L509.57,285.82 L510.24,285.66 L510.91,285.5 L511.57,285.33 L512.24,285.16 L512.91,284.99 L513.58,284.82 L514.25,284.64 L514.92,284.45 L515.59,284.27 L516.25,284.08 L516.92,283.88 L517.59,283.68 L518.26,283.47 L518.93,283.26 L519.6,283.04 L520.26,282.82 L520.93,282.58 L521.6,282.35 L522.27,282.1 L522.94,281.85 L523.61,281.6 L524.27,281.34 L524.94,281.07 L525.61,280.79 L526.28,280.51 L526.95,280.23 L527.62,279.93 L528.28,279.63 L528.95,279.33 L529.62,279.02 L530.29,278.7 L530.96,278.38 L531.62,278.05 L532.29,277.71 L532.96,277.37 L533.63,277.02 L534.3,276.67 L534.97,276.31 L535.63,275.95 L536.3,275.57 L536.97,275.2 L537.64,274.82 L538.31,274.43 L538.98,274.03 L539.64,273.63 L540.31,273.23 L540.98,272.81 L541.65,272.4 L542.32,271.97 L542.99,271.54 L543.65,271.11 L544.32,270.67 L544.99,270.22 L545.66,269.77 L546.33,269.31 L547,268.85 L547.66,268.38 L548.33,267.91 L549,267.43 L549.67,266.94 L550.34,266.45 L551.01,265.95 L551.67,265.45 L552.34,264.94 L553.01,264.42 L553.68,263.9 L554.35,263.37 L555.02,262.84 L555.68,262.3 L556.35,261.75 L557.02,261.19 L557.69,260.63 L558.36,260.06 L559.03,259.49 L559.69,258.91 L560.36,258.32 L561.03,257.72 L561.7,257.12 L562.37,256.51 L563.04,255.89 L563.7,255.26 L564.37,254.63 L565.04,253.99 L565.71,253.34 L566.38,252.69 L567.05,252.02 L567.71,251.35 L568.38,250.67 L569.05,249.98 L569.72,249.29 L570.39,248.58 L571.06,247.87 L571.72,247.15 L572.39,246.42 L573.06,245.68 L573.73,244.93 L574.4,244.18 L575.07,243.41 L575.73,242.64 L576.4,241.86 L577.07,241.07 L577.74,240.27 L578.41,239.47 L579.08,238.65 L579.75,237.83 L580.41,236.99 L581.08,236.15 L581.75,235.3 L582.42,234.44 L583.09,233.57 L583.75,232.69 L584.42,231.81 L585.09,230.91 L585.76,230.01 L586.43,229.09 L587.1,228.17 L587.76,227.24 L588.43,226.31 L589.1,225.36 L589.77,224.4 L590.44,223.44 L591.11,222.47 L591.77,221.49 L592.44,220.51 L593.11,219.51 L593.78,218.51 L594.45,217.5 L595.12,216.48 L595.78,215.46 L596.45,214.43 L597.12,213.39 L597.79,212.34 L598.46,211.28 L599.13,210.22 L599.79,209.15 L600.46,208.08 L601.13,207 L601.8,205.91 L601.8,282.69 L601.13,282.67 L600.46,282.65 L599.79,282.64 L599.13,282.63 L598.46,282.62 L597.79,282.62 L597.12,282.63 L596.45,282.64 L595.78,282.65 L595.12,282.67 L594.45,282.69 L593.78,282.72 L593.11,282.75 L592.44,282.78 L591.77,282.82 L591.11,282.86 L590.44,282.91 L589.77,282.96 L589.1,283.01 L588.43,283.07 L587.76,283.13 L587.1,283.19 L586.43,283.26 L585.76,283.33 L585.09,283.4 L584.42,283.48 L583.75,283.56 L583.09,283.64 L582.42,283.73 L581.75,283.81 L581.08,283.91 L580.41,284 L579.75,284.1 L579.08,284.2 L578.41,284.3 L577.74,284.41 L577.07,284.51 L576.4,284.63 L575.73,284.74 L575.07,284.85 L574.4,284.97 L573.73,285.09 L573.06,285.21 L572.39,285.34 L571.72,285.46 L571.06,285.59 L570.39,285.72 L569.72,285.85 L569.05,285.98 L568.38,286.12 L567.71,286.25 L567.05,286.39 L566.38,286.53 L565.71,286.67 L565.04,286.81 L564.37,286.96 L563.7,287.1 L563.04,287.25 L562.37,287.4 L561.7,287.54 L561.03,287.69 L560.36,287.84 L559.69,287.99 L559.03,288.15 L558.36,288.3 L557.69,288.45 L557.02,288.61 L556.35,288.76 L555.68,288.91 L555.02,289.07 L554.35,289.23 L553.68,289.38 L553.01,289.54 L552.34,289.69 L551.67,289.85 L551.01,290.01 L550.34,290.16 L549.67,290.32 L549,290.48 L548.33,290.63 L547.66,290.79 L547,290.94 L546.33,291.1 L545.66,291.25 L544.99,291.41 L544.32,291.56 L543.65,291.71 L542.99,291.86 L542.32,292.02 L541.65,292.17 L540.98,292.32 L540.31,292.46 L539.64,292.61 L538.98,292.76 L538.31,292.9 L537.64,293.05 L536.97,293.19 L536.3,293.33 L535.63,293.47 L534.97,293.61 L534.3,293.75 L533.63,293.88 L532.96,294.01 L532.29,294.15 L531.62,294.28 L530.96,294.4 L530.29,294.53 L529.62,294.65 L528.95,294.78 L528.28,294.9 L527.62,295.01 L526.95,295.13 L526.28,295.24 L525.61,295.35 L524.94,295.46 L524.27,295.57 L523.61,295.67 L522.94,295.77 L522.27,295.87 L521.6,295.97 L520.93,296.06 L520.26,296.15 L519.6,296.24 L518.93,296.32 L518.26,296.4 L517.59,296.48 L516.92,296.55 L516.25,296.62 L515.59,296.69 L514.92,296.75 L514.25,296.82 L513.58,296.87 L512.91,296.93 L512.24,296.98 L511.57,297.02 L510.91,297.07 L510.24,297.1 L509.57,297.14 L508.9,297.17 L508.23,297.2 L507.56,297.22 L506.9,297.24 L506.23,297.25 L505.56,297.26 L504.89,297.27 L504.22,297.27 L503.55,297.27 L502.89,297.26 L502.22,297.25 L501.55,297.23 L500.88,297.21 L500.21,297.18 L499.54,297.15 L498.88,297.12 L498.21,297.08 L497.54,297.03 L496.87,296.98 L496.2,296.92 L495.53,296.86 L494.87,296.8 L494.2,296.72 L493.53,296.65 L492.86,296.56 L492.19,296.47 L491.52,296.38 L490.86,296.28 L490.19,296.17 L489.52,296.06 L488.85,295.95 L488.18,295.82 L487.51,295.69 L486.85,295.56 L486.18,295.42 L485.51,295.27 L484.84,295.12 L484.17,294.96 L483.5,294.79 L482.84,294.62 L482.17,294.44 L481.5,294.25 L480.83,294.32 L480.16,294.39 L479.5,294.47 L478.83,294.54 L478.16,294.62 L477.49,294.69 L476.82,294.77 L476.15,294.85 L475.49,294.93 L474.82,295.01 L474.15,295.09 L473.48,295.18 L472.81,295.26 L472.14,295.35 L471.48,295.44 L470.81,295.53 L470.14,295.62 L469.47,295.71 L468.8,295.81 L468.13,295.9 L467.46,296 L466.8,296.09 L466.13,296.19 L465.46,296.29 L464.79,296.39 L464.12,296.5 L463.45,296.6 L462.79,296.71 L462.12,296.81 L461.45,296.92 L460.78,297.03 L460.11,297.14 L459.44,297.25 L458.78,297.37 L458.11,297.48 L457.44,297.6 L456.77,297.72 L456.1,297.84 L455.44,297.96 L454.77,298.08 L454.1,298.21 L453.43,298.33 L452.76,298.46 L452.09,298.59 L451.43,298.72 L450.76,298.85 L450.09,298.98 L449.42,299.11 L448.75,299.25 L448.08,299.39 L447.42,299.53 L446.75,299.67 L446.08,299.81 L445.41,299.95 L444.74,300.1 L444.07,300.24 L443.4,300.39 L442.74,300.54 L442.07,300.69 L441.4,300.84 L440.73,301 L440.06,301.15 L439.39,301.31 L438.73,301.47 L438.06,301.63 L437.39,301.79 L436.72,301.96 L436.05,302.12 L435.38,302.29 L434.72,302.46 L434.05,302.63 L433.38,302.8 L432.71,302.97 L432.04,303.15 L431.38,303.32 L430.71,303.5 L430.04,303.68 L429.37,303.86 L428.7,304.05 L428.03,304.23 L427.37,304.42 L426.7,304.61 L426.03,304.8 L425.36,304.99 L424.69,305.18 L424.02,305.38 L423.36,305.58 L422.69,305.77 L422.02,305.97 L421.35,306.18 L420.68,306.38 L420.01,306.59 L419.35,306.79 L418.68,307 L418.01,307.21 L417.34,307.43 L416.67,307.64 L416,307.86 L415.34,308.08 L414.67,308.3 L414,308.52 L413.33,308.74 L412.66,308.97 L411.99,309.19 L411.32,309.42 L410.66,309.65 L409.99,309.88 L409.32,310.12 L408.65,310.36 L407.98,310.59 L407.31,310.83 L406.65,311.08 L405.98,311.32 L405.31,311.56 L404.64,311.81 L403.97,312.06 L403.31,312.31 L402.64,312.57 L401.97,312.82 L401.3,313.08 Z" fill="#ffcccc"/>
<line x1="401.3" y1="294.25" x2="601.8" y2="294.25" stroke="#404040" stroke-width="1.1" stroke-dasharray="2.8 2.42" stroke-dashoffset="0.3"/>
<path d="M401.3,299.3 L401.97,299.27 L402.64,299.24 L403.31,299.21 L403.97,299.17 L404.64,299.14 L405.31,299.1 L405.98,299.06 L406.65,299.02 L407.31,298.98 L407.98,298.94 L408.65,298.9 L409.32,298.85 L409.99,298.8 L410.66,298.75 L411.32,298.71 L411.99,298.65 L412.66,298.6 L413.33,298.55 L414,298.5 L414.67,298.44 L415.34,298.39 L416,298.33 L416.67,298.27 L417.34,298.21 L418.01,298.15 L418.68,298.09 L419.35,298.03 L420.01,297.97 L420.68,297.9 L421.35,297.84 L422.02,297.78 L422.69,297.71 L423.36,297.65 L424.02,297.58 L424.69,297.52 L425.36,297.45 L426.03,297.38 L426.7,297.31 L427.37,297.25 L428.03,297.18 L428.7,297.11 L429.37,297.04 L430.04,296.97 L430.71,296.9 L431.38,296.83 L432.04,296.77 L432.71,296.7 L433.38,296.63 L434.05,296.56 L434.72,296.49 L435.38,296.42 L436.05,296.35 L436.72,296.29 L437.39,296.22 L438.06,296.15 L438.73,296.08 L439.39,296.02 L440.06,295.95 L440.73,295.88 L441.4,295.82 L442.07,295.75 L442.74,295.69 L443.4,295.62 L444.07,295.56 L444.74,295.5 L445.41,295.44 L446.08,295.38 L446.75,295.31 L447.42,295.26 L448.08,295.2 L448.75,295.14 L449.42,295.08 L450.09,295.03 L450.76,294.97 L451.43,294.92 L452.09,294.87 L452.76,294.82 L453.43,294.77 L454.1,294.72 L454.77,294.67 L455.44,294.62 L456.1,294.58 L456.77,294.53 L457.44,294.49 L458.11,294.45 L458.78,294.41 L459.44,294.37 L460.11,294.34 L460.78,294.3 L461.45,294.27 L462.12,294.24 L462.79,294.21 L463.45,294.18 L464.12,294.16 L464.79,294.13 L465.46,294.11 L466.13,294.09 L466.8,294.07 L467.46,294.06 L468.13,294.04 L468.8,294.03 L469.47,294.02 L470.14,294.01 L470.81,294.01 L471.48,294 L472.14,294 L472.81,294 L473.48,294.01 L474.15,294.01 L474.82,294.02 L475.49,294.03 L476.15,294.05 L476.82,294.06 L477.49,294.08 L478.16,294.1 L478.83,294.13 L479.5,294.15 L480.16,294.18 L480.83,294.22 L481.5,294.25 L482.17,294.3 L482.84,294.35 L483.5,294.4 L484.17,294.44 L484.84,294.47 L485.51,294.5 L486.18,294.53 L486.85,294.55 L487.51,294.56 L488.18,294.57 L488.85,294.58 L489.52,294.58 L490.19,294.58 L490.86,294.57 L491.52,294.56 L492.19,294.54 L492.86,294.52 L493.53,294.49 L494.2,294.46 L494.87,294.43 L495.53,294.39 L496.2,294.35 L496.87,294.3 L497.54,294.25 L498.21,294.19 L498.88,294.13 L499.54,294.06 L500.21,293.99 L500.88,293.92 L501.55,293.84 L502.22,293.76 L502.89,293.67 L503.55,293.58 L504.22,293.49 L504.89,293.39 L505.56,293.29 L506.23,293.19 L506.9,293.08 L507.56,292.96 L508.23,292.84 L508.9,292.72 L509.57,292.6 L510.24,292.47 L510.91,292.34 L511.57,292.2 L512.24,292.06 L512.91,291.92 L513.58,291.77 L514.25,291.62 L514.92,291.47 L515.59,291.31 L516.25,291.15 L516.92,290.98 L517.59,290.81 L518.26,290.64 L518.93,290.47 L519.6,290.29 L520.26,290.11 L520.93,289.92 L521.6,289.73 L522.27,289.54 L522.94,289.35 L523.61,289.15 L524.27,288.95 L524.94,288.75 L525.61,288.54 L526.28,288.33 L526.95,288.12 L527.62,287.9 L528.28,287.68 L528.95,287.46 L529.62,287.24 L530.29,287.01 L530.96,286.78 L531.62,286.54 L532.29,286.31 L532.96,286.07 L533.63,285.83 L534.3,285.58 L534.97,285.34 L535.63,285.09 L536.3,284.84 L536.97,284.58 L537.64,284.32 L538.31,284.06 L538.98,283.8 L539.64,283.54 L540.31,283.27 L540.98,283 L541.65,282.73 L542.32,282.46 L542.99,282.18 L543.65,281.9 L544.32,281.62 L544.99,281.34 L545.66,281.05 L546.33,280.76 L547,280.47 L547.66,280.18 L548.33,279.89 L549,279.59 L549.67,279.3 L550.34,279 L551.01,278.69 L551.67,278.39 L552.34,278.08 L553.01,277.78 L553.68,277.47 L554.35,277.16 L555.02,276.84 L555.68,276.53 L556.35,276.21 L557.02,275.9 L557.69,275.58 L558.36,275.26 L559.03,274.93 L559.69,274.61 L560.36,274.28 L561.03,273.96 L561.7,273.63 L562.37,273.3 L563.04,272.96 L563.7,272.63 L564.37,272.3 L565.04,271.96 L565.71,271.63 L566.38,271.29 L567.05,270.95 L567.71,270.61 L568.38,270.26 L569.05,269.92 L569.72,269.58 L570.39,269.23 L571.06,268.89 L571.72,268.54 L572.39,268.19 L573.06,267.84 L573.73,267.49 L574.4,267.14 L575.07,266.79 L575.73,266.44 L576.4,266.08 L577.07,265.73 L577.74,265.37 L578.41,265.02 L579.08,264.66 L579.75,264.3 L580.41,263.95 L581.08,263.59 L581.75,263.23 L582.42,262.87 L583.09,262.51 L583.75,262.15 L584.42,261.79 L585.09,261.43 L585.76,261.06 L586.43,260.7 L587.1,260.34 L587.76,259.98 L588.43,259.61 L589.1,259.25 L589.77,258.89 L590.44,258.52 L591.11,258.16 L591.77,257.79 L592.44,257.43 L593.11,257.06 L593.78,256.7 L594.45,256.34 L595.12,255.97 L595.78,255.61 L596.45,255.24 L597.12,254.88 L597.79,254.51 L598.46,254.15 L599.13,253.79 L599.79,253.42 L600.46,253.06 L601.13,252.7 L601.8,252.33" fill="none" stroke="#ff2a2a" stroke-width="0.9"/>
<path d="M401.3,201 V331.55 H601.8" fill="none" stroke="#c8c8c8" stroke-width="1"/>
<line x1="400.1" y1="331.55" x2="401.3" y2="331.55" stroke="#999" stroke-width="0.6"/>
<text x="389.01" y="333.85" class="t" font-size="6.2" textLength="9.69" lengthAdjust="spacingAndGlyphs">0.0</text>
<line x1="400.1" y1="312.9" x2="401.3" y2="312.9" stroke="#999" stroke-width="0.6"/>
<text x="389.01" y="315.2" class="t" font-size="6.2" textLength="9.69" lengthAdjust="spacingAndGlyphs">0.5</text>
<line x1="400.1" y1="294.25" x2="401.3" y2="294.25" stroke="#999" stroke-width="0.6"/>
<text x="389.01" y="296.55" class="t" font-size="6.2" textLength="9.69" lengthAdjust="spacingAndGlyphs">1.0</text>
<line x1="400.1" y1="275.6" x2="401.3" y2="275.6" stroke="#999" stroke-width="0.6"/>
<text x="389.01" y="277.9" class="t" font-size="6.2" textLength="9.69" lengthAdjust="spacingAndGlyphs">1.5</text>
<line x1="400.1" y1="256.95" x2="401.3" y2="256.95" stroke="#999" stroke-width="0.6"/>
<text x="389.01" y="259.25" class="t" font-size="6.2" textLength="9.69" lengthAdjust="spacingAndGlyphs">2.0</text>
<line x1="400.1" y1="238.3" x2="401.3" y2="238.3" stroke="#999" stroke-width="0.6"/>
<text x="389.01" y="240.6" class="t" font-size="6.2" textLength="9.69" lengthAdjust="spacingAndGlyphs">2.5</text>
<line x1="400.1" y1="219.65" x2="401.3" y2="219.65" stroke="#999" stroke-width="0.6"/>
<text x="389.01" y="221.95" class="t" font-size="6.2" textLength="9.69" lengthAdjust="spacingAndGlyphs">3.0</text>
<line x1="400.1" y1="201" x2="401.3" y2="201" stroke="#999" stroke-width="0.6"/>
<text x="389.01" y="203.3" class="t" font-size="6.2" textLength="9.69" lengthAdjust="spacingAndGlyphs">3.5</text>
<line x1="401.3" y1="331.55" x2="401.3" y2="332.75" stroke="#999" stroke-width="0.6"/>
<text x="397.43" y="337.25" class="t" font-size="6.2" textLength="7.75" lengthAdjust="spacingAndGlyphs">20</text>
<line x1="441.4" y1="331.55" x2="441.4" y2="332.75" stroke="#999" stroke-width="0.6"/>
<text x="437.53" y="337.25" class="t" font-size="6.2" textLength="7.75" lengthAdjust="spacingAndGlyphs">25</text>
<line x1="481.5" y1="331.55" x2="481.5" y2="332.75" stroke="#999" stroke-width="0.6"/>
<text x="477.63" y="337.25" class="t" font-size="6.2" textLength="7.75" lengthAdjust="spacingAndGlyphs">30</text>
<line x1="521.6" y1="331.55" x2="521.6" y2="332.75" stroke="#999" stroke-width="0.6"/>
<text x="517.73" y="337.25" class="t" font-size="6.2" textLength="7.75" lengthAdjust="spacingAndGlyphs">35</text>
<line x1="561.7" y1="331.55" x2="561.7" y2="332.75" stroke="#999" stroke-width="0.6"/>
<text x="557.83" y="337.25" class="t" font-size="6.2" textLength="7.75" lengthAdjust="spacingAndGlyphs">40</text>
<line x1="601.8" y1="331.55" x2="601.8" y2="332.75" stroke="#999" stroke-width="0.6"/>
<text x="597.93" y="337.25" class="t" font-size="6.2" textLength="7.75" lengthAdjust="spacingAndGlyphs">45</text>
<text x="474.8" y="342.4" class="t" font-size="5.8" textLength="60.4" lengthAdjust="spacingAndGlyphs">Maternal age (years)</text>
<text transform="translate(386.61,290.45) rotate(-90)" class="s" font-size="6.2" textLength="48.9" lengthAdjust="spacingAndGlyphs">Odds ratio (95% CI)</text>
<text x="417.8" y="207.6" class="t" font-size="5.8" textLength="64.3" lengthAdjust="spacingAndGlyphs">P for overall = 0.010</text>
<text x="417.8" y="213.1" class="t" font-size="5.8" textLength="72.0" lengthAdjust="spacingAndGlyphs">P for nonlinear = 0.241</text>
<text transform="translate(112.05,195.2) scale(0.8,1)" class="L">A</text>
<text transform="translate(345.85,195.3) scale(0.87,1)" class="L">B</text>
<text transform="translate(579.2,195.3) scale(0.93,1)" class="L">C</text>
<text transform="translate(266.75,363.4) scale(0.9,1)" class="L">D</text>
<text transform="translate(514.55,363.6) scale(0.83,1)" class="L">E</text>
</svg>
</body></html>
